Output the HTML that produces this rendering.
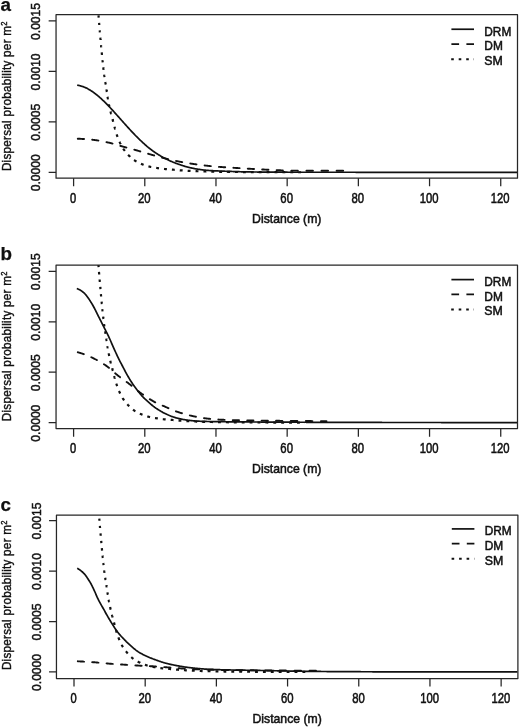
<!DOCTYPE html>
<html><head><meta charset="utf-8"><title>Dispersal kernels</title>
<style>html,body{margin:0;padding:0;background:#fff}svg{display:block;will-change:transform;filter:grayscale(1)}text{font-family:"Liberation Sans",sans-serif;fill:#111;stroke:#111;stroke-width:0.55px}</style></head><body>
<svg width="520" height="727" viewBox="0 0 520 727">
<rect width="520" height="727" fill="#fff"/>
<defs>
<clipPath id="cp0"><rect x="56.05" y="14.65" width="461.45" height="163.50"/></clipPath>
<clipPath id="cp1"><rect x="56.05" y="265.05" width="461.45" height="163.50"/></clipPath>
<clipPath id="cp2"><rect x="56.45" y="515.00" width="461.45" height="163.50"/></clipPath>
</defs>
<g id="panel-a">
<g clip-path="url(#cp0)" fill="none" stroke="#111" stroke-width="1.7" stroke-linejoin="round">
<path d="M95.67,-29.28 L95.71,-28.60 L95.74,-27.91 L95.78,-27.23 M96.09,-21.30 L96.13,-20.64 L96.16,-19.99 L96.20,-19.34 M96.48,-14.39 L96.51,-13.77 L96.55,-13.16 L96.58,-12.57 L96.62,-11.99 M96.93,-6.80 L96.97,-6.26 L97.00,-5.71 L97.04,-5.17 L97.07,-4.63 M97.42,0.62 L97.46,1.13 L97.49,1.64 L97.53,2.14 L97.56,2.65 M97.94,7.98 L97.98,8.44 L98.01,8.91 L98.05,9.37 L98.08,9.83 L98.12,10.30 M98.50,15.33 L98.54,15.78 L98.57,16.24 L98.61,16.69 L98.64,17.14 L98.68,17.58 M99.10,22.83 L99.13,23.26 L99.17,23.69 L99.20,24.12 L99.24,24.54 L99.27,24.97 M99.73,30.41 L99.76,30.81 L99.80,31.22 L99.83,31.63 L99.87,32.03 L99.90,32.44 M100.35,37.65 L100.39,38.05 L100.42,38.44 L100.46,38.83 L100.49,39.23 L100.53,39.62 L100.56,40.01 M101.02,45.04 L101.05,45.42 L101.09,45.80 L101.12,46.18 L101.16,46.56 L101.19,46.93 L101.23,47.30 M101.72,52.46 L101.75,52.82 L101.79,53.18 L101.82,53.53 L101.86,53.88 L101.89,54.23 L101.93,54.58 L101.96,54.93 M102.48,60.04 L102.52,60.37 L102.55,60.70 L102.59,61.03 L102.62,61.36 L102.66,61.69 L102.69,62.02 L102.73,62.35 M103.29,67.44 L103.32,67.74 L103.36,68.04 L103.39,68.35 L103.43,68.65 L103.46,68.95 L103.50,69.25 L103.53,69.56 L103.57,69.85 M104.20,74.72 L104.23,74.98 L104.27,75.23 L104.30,75.46 L104.34,75.70 L104.37,75.94 L104.41,76.18 L104.44,76.42 L104.48,76.65 L104.51,76.89 L104.54,77.13 M105.31,82.00 L105.35,82.21 L105.38,82.43 L105.42,82.64 L105.45,82.86 L105.49,83.07 L105.52,83.29 L105.56,83.51 L105.59,83.72 L105.63,83.94 L105.66,84.16 L105.70,84.38 L105.73,84.60 M106.47,89.40 L106.50,89.64 L106.54,89.87 L106.57,90.11 L106.61,90.34 L106.64,90.58 L106.68,90.82 L106.71,91.05 L106.75,91.29 L106.78,91.52 L106.81,91.76 L106.85,92.00 M107.58,96.79 L107.62,97.01 L107.65,97.23 L107.69,97.45 L107.72,97.67 L107.76,97.88 L107.79,98.08 L107.83,98.29 L107.86,98.49 L107.90,98.69 L107.93,98.89 L107.97,99.09 L108.00,99.30 M108.91,104.14 L108.95,104.32 L108.98,104.49 L109.02,104.67 L109.05,104.84 L109.08,105.02 L109.12,105.19 L109.15,105.36 L109.19,105.53 L109.22,105.70 L109.26,105.87 L109.29,106.03 L109.33,106.20 L109.36,106.37 L109.40,106.53 M110.52,111.50 L110.55,111.64 L110.59,111.78 L110.62,111.92 L110.66,112.06 L110.69,112.20 L110.73,112.34 L110.76,112.49 L110.80,112.63 L110.83,112.77 L110.87,112.91 L110.90,113.04 L110.94,113.18 L110.97,113.32 L111.01,113.45 L111.04,113.59 L111.08,113.73 L111.11,113.86 L111.15,114.00 L111.18,114.13 M112.47,119.13 L112.51,119.27 L112.54,119.40 L112.58,119.53 L112.61,119.67 L112.65,119.80 L112.68,119.94 L112.72,120.07 L112.75,120.20 L112.79,120.34 L112.82,120.47 L112.86,120.60 L112.89,120.74 L112.93,120.87 L112.96,121.00 L113.00,121.14 L113.03,121.27 L113.07,121.40 L113.10,121.54 L113.14,121.67 L113.17,121.80 M114.50,126.84 L114.53,126.98 L114.57,127.11 L114.60,127.24 L114.64,127.38 L114.67,127.51 L114.71,127.64 L114.74,127.78 L114.78,127.91 L114.81,128.04 L114.85,128.17 L114.88,128.30 L114.92,128.44 L114.95,128.57 L114.99,128.70 L115.02,128.83 L115.06,128.96 L115.09,129.09 L115.13,129.22 L115.16,129.35 L115.20,129.48 M116.66,134.39 L116.73,134.61 L116.80,134.82 L116.87,135.02 L116.94,135.23 L117.01,135.43 L117.08,135.63 L117.15,135.83 L117.22,136.03 L117.29,136.22 L117.36,136.42 L117.43,136.61 L117.50,136.80 L117.57,136.99 M119.49,141.70 L119.56,141.86 L119.63,142.01 L119.70,142.16 L119.77,142.31 L119.84,142.46 L119.91,142.61 L119.98,142.76 L120.05,142.90 L120.12,143.05 L120.19,143.19 L120.26,143.34 L120.33,143.48 L120.40,143.62 L120.47,143.76 L120.54,143.90 L120.61,144.04 L120.68,144.18 L120.71,144.25 M123.23,148.69 L123.37,148.90 L123.51,149.11 L123.65,149.31 L123.79,149.50 L123.93,149.70 L124.07,149.89 L124.21,150.08 L124.35,150.26 L124.49,150.44 L124.63,150.62 L124.77,150.79 L124.90,150.97 M128.15,154.80 L128.29,154.95 L128.43,155.11 L128.57,155.25 L128.71,155.40 L128.85,155.55 L128.99,155.69 L129.13,155.83 L129.27,155.97 L129.41,156.11 L129.55,156.25 L129.69,156.39 L129.83,156.52 L129.97,156.66 L130.11,156.79 L130.14,156.83 M134.05,160.04 L134.23,160.16 L134.40,160.27 L134.58,160.39 L134.75,160.50 L134.93,160.61 L135.10,160.72 L135.28,160.82 L135.45,160.93 L135.63,161.03 L135.80,161.14 L135.98,161.24 L136.15,161.34 L136.32,161.44 L136.50,161.53 M141.00,163.79 L141.21,163.88 L141.42,163.97 L141.63,164.06 L141.84,164.14 L142.05,164.23 L142.26,164.31 L142.47,164.39 L142.68,164.47 L142.89,164.55 L143.10,164.63 L143.31,164.70 L143.52,164.78 L143.66,164.83 M148.44,166.36 L148.65,166.42 L148.86,166.48 L149.07,166.53 L149.28,166.58 L149.49,166.63 L149.70,166.68 L149.91,166.73 L150.12,166.78 L150.33,166.83 L150.54,166.87 L150.75,166.92 L150.96,166.96 L151.17,167.01 L151.24,167.02 M156.20,167.88 L156.40,167.91 L156.61,167.94 L156.82,167.97 L157.03,168.01 L157.24,168.04 L157.45,168.07 L157.66,168.10 L157.87,168.14 L158.08,168.17 L158.29,168.20 L158.50,168.23 L158.71,168.27 L158.92,168.30 L159.02,168.31 M164.02,168.95 L164.23,168.97 L164.44,168.99 L164.65,169.00 L164.86,169.02 L165.07,169.04 L165.28,169.06 L165.48,169.07 L165.69,169.09 L165.90,169.10 L166.11,169.12 L166.32,169.13 L166.53,169.15 L166.74,169.16 L166.88,169.17 M171.91,169.57 L172.12,169.59 L172.33,169.61 L172.54,169.63 L172.75,169.65 L172.96,169.67 L173.17,169.69 L173.38,169.71 L173.59,169.73 L173.80,169.75 L174.01,169.77 L174.22,169.79 L174.42,169.81 L174.63,169.83 L174.74,169.84 M179.77,170.28 L179.98,170.30 L180.19,170.31 L180.40,170.33 L180.61,170.34 L180.82,170.36 L181.03,170.37 L181.23,170.39 L181.44,170.40 L181.65,170.42 L181.86,170.43 L182.07,170.44 L182.28,170.46 L182.49,170.47 L182.63,170.48 M187.66,170.78 L187.87,170.79 L188.08,170.80 L188.29,170.81 L188.50,170.82 L188.71,170.84 L188.92,170.85 L189.13,170.86 L189.34,170.87 L189.55,170.88 L189.76,170.89 L189.97,170.90 L190.17,170.91 L190.38,170.92 L190.52,170.93 M195.55,171.16 L195.76,171.17 L195.97,171.18 L196.18,171.19 L196.39,171.20 L196.60,171.21 L196.81,171.21 L197.02,171.22 L197.23,171.23 L197.44,171.24 L197.65,171.25 L197.86,171.26 L198.07,171.27 L198.28,171.27 L198.42,171.28 M203.45,171.46 L203.65,171.46 L203.86,171.47 L204.07,171.48 L204.28,171.48 L204.49,171.49 L204.70,171.49 L204.91,171.50 L205.12,171.50 L205.33,171.51 L205.54,171.51 L205.75,171.52 L205.96,171.52 L206.17,171.53 L206.31,171.53 M211.34,171.65 L211.55,171.66 L211.76,171.66 L211.97,171.66 L212.18,171.67 L212.39,171.67 L212.60,171.68 L212.80,171.68 L213.01,171.69 L213.22,171.69 L213.43,171.70 L213.64,171.70 L213.85,171.70 L214.06,171.71 L214.20,171.71 M219.23,171.80 L219.44,171.81 L219.65,171.81 L219.86,171.82 L220.07,171.82 L220.28,171.82 L220.49,171.83 L220.70,171.83 L220.91,171.83 L221.12,171.84 L221.33,171.84 L221.54,171.84 L221.74,171.85 L221.95,171.85 L222.09,171.85 M227.12,171.92 L227.33,171.92 L227.54,171.92 L227.75,171.93 L227.96,171.93 L228.17,171.93 L228.38,171.93 L228.59,171.94 L228.80,171.94 L229.01,171.94 L229.22,171.94 L229.43,171.94 L229.64,171.95 L229.85,171.95 L229.99,171.95 M235.05,172.00 L235.26,172.00 L235.47,172.00 L235.68,172.00 L235.89,172.00 L236.10,172.01 L236.31,172.01 L236.52,172.01 L236.73,172.01 L236.94,172.01 L237.15,172.02 L237.36,172.02 L237.56,172.02 L237.77,172.02 L237.91,172.02 M242.94,172.06 L243.15,172.06 L243.36,172.06 L243.57,172.06 L243.78,172.07 L243.99,172.07 L244.20,172.07 L244.41,172.07 L244.62,172.07 L244.83,172.07 L245.04,172.07 L245.25,172.08 L245.46,172.08 L245.67,172.08 L245.81,172.08 M250.84,172.11 L251.04,172.11 L251.25,172.11 L251.46,172.11 L251.67,172.11 L251.88,172.11 L252.09,172.12 L252.30,172.12 L252.51,172.12 L252.72,172.12 L252.93,172.12 L253.14,172.12 L253.35,172.12 L253.56,172.12 L253.70,172.12 M258.73,172.15 L258.94,172.15 L259.15,172.15 L259.36,172.15 L259.57,172.15 L259.78,172.15 L259.98,172.15 L260.19,172.15 L260.40,172.15 L260.61,172.15 L260.82,172.15 L261.03,172.15 L261.24,172.15 L261.45,172.15 L261.59,172.16 M266.62,172.17 L266.83,172.17 L267.04,172.17 L267.25,172.17 L267.46,172.18 L267.67,172.18 L267.88,172.18 L268.09,172.18 L268.30,172.18 L268.51,172.18 L268.72,172.18 L268.93,172.18 L269.13,172.18 L269.34,172.18 L269.48,172.18 M274.55,172.20 L274.76,172.20 L274.97,172.20 L275.18,172.20 L275.39,172.20 L275.60,172.20 L275.80,172.20 L276.01,172.20 L276.22,172.20 L276.43,172.20 L276.64,172.20 L276.85,172.20 L277.06,172.20 L277.27,172.21 L277.41,172.21 M282.44,172.22 L282.65,172.22 L282.86,172.22 L283.07,172.22 L283.28,172.22 L283.49,172.22 L283.70,172.22 L283.91,172.22 L284.12,172.22 L284.33,172.22 L284.54,172.22 L284.74,172.22 L284.95,172.23 L285.16,172.23 L285.30,172.23 M290.33,172.24 L290.54,172.24 L290.75,172.24 L290.96,172.24 L291.17,172.24 L291.38,172.24 L291.59,172.24 L291.80,172.24 L292.01,172.24 L292.22,172.24 L292.43,172.24 L292.64,172.24 L292.85,172.24 L293.06,172.24 L293.20,172.24 M298.23,172.25 L298.43,172.25 L298.64,172.25 L298.85,172.25 L299.06,172.25 L299.27,172.25 L299.48,172.25 L299.69,172.25 L299.90,172.25 L300.11,172.25 L300.32,172.25 L300.53,172.25 L300.74,172.25 L300.95,172.25 L301.09,172.25" stroke-width="2.2"/>
<path d="M77.78,138.72 L78.27,138.74 L78.76,138.76 L79.24,138.78 L79.73,138.80 L80.22,138.82 L80.71,138.85 L81.20,138.87 L81.69,138.90 L82.18,138.93 L82.67,138.95 L83.15,138.98 L83.64,139.01 L84.04,139.04 M92.17,139.73 L92.66,139.78 L93.15,139.84 L93.64,139.90 L94.13,139.95 L94.62,140.01 L95.11,140.08 L95.60,140.14 L96.08,140.21 L96.57,140.28 L97.06,140.35 L97.55,140.43 L98.04,140.51 L98.39,140.57 M106.44,142.15 L106.93,142.25 L107.41,142.36 L107.90,142.47 L108.39,142.58 L108.88,142.69 L109.37,142.80 L109.86,142.91 L110.35,143.03 L110.84,143.14 L111.32,143.26 L111.81,143.39 L112.30,143.52 L112.52,143.57 M120.34,145.85 L120.83,145.99 L121.32,146.13 L121.81,146.28 L122.30,146.42 L122.79,146.56 L123.28,146.69 L123.77,146.83 L124.25,146.96 L124.74,147.10 L125.23,147.23 L125.72,147.37 L126.21,147.50 L126.39,147.55 M134.30,149.70 L134.78,149.83 L135.27,149.97 L135.76,150.11 L136.25,150.24 L136.74,150.38 L137.23,150.52 L137.72,150.66 L138.21,150.80 L138.69,150.95 L139.18,151.09 L139.67,151.23 L140.16,151.38 L140.29,151.42 M148.11,153.76 L148.60,153.90 L149.09,154.04 L149.58,154.18 L150.07,154.32 L150.56,154.46 L151.05,154.60 L151.54,154.74 L152.02,154.88 L152.51,155.01 L153.00,155.15 L153.49,155.29 L153.98,155.43 L154.16,155.48 M162.02,157.66 L162.51,157.79 L163.00,157.92 L163.49,158.05 L163.98,158.17 L164.47,158.30 L164.95,158.42 L165.44,158.54 L165.93,158.67 L166.42,158.79 L166.91,158.91 L167.40,159.02 L167.89,159.14 L168.11,159.19 M176.06,160.96 L176.55,161.06 L177.04,161.16 L177.53,161.25 L178.02,161.35 L178.51,161.44 L178.99,161.54 L179.48,161.63 L179.97,161.72 L180.46,161.81 L180.95,161.91 L181.44,162.00 L181.93,162.09 L182.24,162.14 M190.28,163.51 L190.77,163.59 L191.26,163.66 L191.75,163.74 L192.24,163.81 L192.72,163.89 L193.21,163.96 L193.70,164.03 L194.19,164.10 L194.68,164.17 L195.17,164.24 L195.66,164.31 L196.15,164.37 L196.50,164.42 M204.59,165.46 L205.08,165.51 L205.57,165.57 L206.05,165.62 L206.54,165.68 L207.03,165.73 L207.52,165.78 L208.01,165.84 L208.50,165.89 L208.99,165.94 L209.48,165.99 L209.96,166.04 L210.45,166.08 L210.81,166.12 M218.94,166.84 L219.43,166.88 L219.92,166.92 L220.41,166.96 L220.89,167.00 L221.38,167.04 L221.87,167.07 L222.36,167.11 L222.85,167.15 L223.34,167.18 L223.83,167.22 L224.32,167.25 L224.80,167.29 L225.20,167.31 M233.38,167.81 L233.87,167.83 L234.36,167.86 L234.85,167.89 L235.33,167.92 L235.82,167.94 L236.31,167.97 L236.80,168.00 L237.29,168.03 L237.78,168.06 L238.27,168.09 L238.76,168.12 L239.24,168.15 L239.60,168.17 M247.78,168.67 L248.26,168.70 L248.75,168.73 L249.24,168.76 L249.73,168.78 L250.22,168.81 L250.71,168.84 L251.20,168.87 L251.69,168.90 L252.17,168.92 L252.66,168.95 L253.15,168.98 L253.64,169.00 L254.04,169.03 M262.17,169.46 L262.66,169.48 L263.15,169.51 L263.64,169.53 L264.13,169.56 L264.62,169.58 L265.10,169.61 L265.59,169.63 L266.08,169.65 L266.57,169.68 L267.06,169.71 L267.55,169.73 L268.04,169.76 L268.44,169.78 M276.61,170.18 L277.10,170.20 L277.59,170.22 L278.08,170.24 L278.57,170.25 L279.06,170.27 L279.55,170.29 L280.03,170.30 L280.52,170.31 L281.01,170.33 L281.50,170.34 L281.99,170.36 L282.48,170.37 L282.88,170.38 M291.32,170.59 L291.85,170.60 L292.39,170.61 L292.92,170.62 L293.45,170.63 L293.99,170.64 L294.52,170.64 L295.05,170.65 L295.59,170.66 L296.12,170.67 L296.65,170.67 L297.18,170.68 L297.72,170.68 L297.85,170.69 M306.43,170.73 L306.96,170.73 L307.49,170.73 L308.03,170.73 L308.56,170.74 L309.09,170.74 L309.63,170.74 L310.16,170.74 L310.69,170.74 L311.23,170.74 L311.76,170.75 L312.29,170.75 L312.83,170.75 L312.96,170.75 M321.49,170.77 L322.02,170.78 L322.56,170.78 L323.09,170.78 L323.62,170.78 L324.16,170.78 L324.69,170.78 L325.22,170.78 L325.75,170.78 L326.29,170.78 L326.82,170.78 L327.35,170.79 L327.89,170.79 L328.07,170.79 M336.60,170.80 L337.13,170.80 L337.66,170.80 L338.20,170.80 L338.73,170.80 L339.26,170.80 L339.80,170.80 L340.33,170.80 L340.86,170.80 L341.40,170.80 L341.93,170.80 L342.46,170.80 L342.99,170.80 L343.17,170.80" stroke-width="1.9" stroke-linecap="round"/>
<path d="M77.16,85.17 L77.65,85.25 L78.14,85.34 L78.63,85.43 L79.12,85.54 L79.61,85.66 L80.10,85.79 L80.59,85.92 L81.08,86.06 L81.57,86.21 L82.06,86.36 L82.55,86.52 L83.04,86.68 L83.53,86.85 L84.02,87.03 L84.51,87.21 L85.00,87.42 L85.49,87.63 L85.98,87.86 L86.47,88.10 L86.96,88.35 L87.45,88.61 L87.94,88.88 L88.43,89.16 L88.91,89.44 L89.40,89.72 L89.89,90.01 L90.38,90.30 L90.87,90.60 L91.36,90.91 L91.85,91.23 L92.34,91.57 L92.83,91.91 L93.32,92.26 L93.81,92.61 L94.30,92.98 L94.79,93.35 L95.28,93.73 L95.77,94.11 L96.26,94.49 L96.75,94.88 L97.24,95.27 L97.73,95.67 L98.22,96.08 L98.71,96.50 L99.20,96.93 L99.69,97.36 L100.18,97.80 L100.67,98.24 L101.16,98.69 L101.65,99.14 L102.14,99.60 L102.63,100.06 L103.12,100.53 L103.61,100.99 L104.10,101.46 L104.59,101.94 L105.08,102.42 L105.57,102.91 L106.06,103.41 L106.55,103.90 L107.04,104.41 L107.53,104.91 L108.02,105.42 L108.51,105.94 L109.00,106.45 L109.49,106.97 L109.98,107.48 L110.47,108.00 L110.96,108.52 L111.45,109.05 L111.94,109.58 L112.43,110.11 L112.92,110.65 L113.41,111.19 L113.90,111.73 L114.39,112.27 L114.87,112.82 L115.36,113.36 L115.85,113.91 L116.34,114.45 L116.83,115.00 L117.32,115.54 L117.81,116.09 L118.30,116.64 L118.79,117.19 L119.28,117.74 L119.77,118.29 L120.26,118.85 L120.75,119.40 L121.24,119.95 L121.73,120.50 L122.22,121.06 L122.71,121.61 L123.20,122.16 L123.69,122.70 L124.18,123.25 L124.67,123.80 L125.16,124.34 L125.65,124.89 L126.14,125.44 L126.63,125.98 L127.12,126.52 L127.61,127.07 L128.10,127.61 L128.59,128.15 L129.08,128.68 L129.57,129.22 L130.06,129.75 L130.55,130.27 L131.04,130.80 L131.53,131.33 L132.02,131.86 L132.51,132.38 L133.00,132.91 L133.49,133.43 L133.98,133.95 L134.47,134.46 L134.96,134.97 L135.45,135.47 L135.94,135.97 L136.43,136.46 L136.92,136.94 L137.41,137.42 L137.90,137.90 L138.39,138.38 L138.88,138.86 L139.37,139.33 L139.86,139.80 L140.35,140.27 L140.83,140.74 L141.32,141.21 L141.81,141.67 L142.30,142.13 L142.79,142.59 L143.28,143.04 L143.77,143.49 L144.26,143.94 L144.75,144.38 L145.24,144.82 L145.73,145.25 L146.22,145.68 L146.71,146.11 L147.20,146.52 L147.69,146.94 L148.18,147.34 L148.67,147.74 L149.16,148.14 L149.65,148.53 L150.14,148.91 L150.63,149.29 L151.12,149.66 L151.61,150.03 L152.10,150.39 L152.59,150.75 L153.08,151.10 L153.57,151.45 L154.06,151.80 L154.55,152.14 L155.04,152.48 L155.53,152.81 L156.02,153.14 L156.51,153.46 L157.00,153.78 L157.49,154.09 L157.98,154.40 L158.47,154.71 L158.96,155.01 L159.45,155.31 L159.94,155.60 L160.43,155.89 L160.92,156.18 L161.41,156.46 L161.90,156.74 L162.39,157.02 L162.88,157.29 L163.37,157.57 L163.86,157.83 L164.35,158.10 L164.84,158.36 L165.33,158.61 L165.82,158.86 L166.31,159.11 L166.79,159.36 L167.28,159.60 L167.77,159.84 L168.26,160.07 L168.75,160.30 L169.24,160.52 L169.73,160.74 L170.22,160.96 L170.71,161.17 L171.20,161.38 L171.69,161.59 L172.18,161.79 L172.67,162.00 L173.16,162.19 L173.65,162.39 L174.14,162.58 L174.63,162.77 L175.12,162.96 L175.61,163.15 L176.10,163.33 L176.59,163.51 L177.08,163.69 L177.57,163.87 L178.06,164.04 L178.55,164.21 L179.04,164.38 L179.53,164.55 L180.02,164.72 L180.51,164.89 L181.00,165.06 L181.49,165.22 L181.98,165.38 L182.47,165.55 L182.96,165.71 L183.45,165.86 L183.94,166.02 L184.43,166.17 L184.92,166.32 L185.41,166.46 L185.90,166.61 L186.39,166.75 L186.88,166.88 L187.37,167.01 L187.86,167.14 L188.35,167.26 L188.84,167.38 L189.33,167.50 L189.82,167.61 L190.31,167.72 L190.80,167.84 L191.29,167.94 L191.78,168.05 L192.27,168.15 L192.76,168.26 L193.24,168.36 L193.73,168.45 L194.22,168.55 L194.71,168.64 L195.20,168.73 L195.69,168.82 L196.18,168.90 L196.67,168.99 L197.16,169.07 L197.65,169.15 L198.14,169.22 L198.63,169.30 L199.12,169.37 L199.61,169.44 L200.10,169.52 L200.59,169.59 L201.08,169.66 L201.57,169.73 L202.06,169.79 L202.55,169.86 L203.04,169.92 L203.53,169.99 L204.02,170.04 L204.51,170.10 L205.00,170.16 L205.49,170.21 L205.98,170.26 L206.47,170.30 L206.96,170.34 L207.45,170.38 L207.94,170.42 L208.43,170.45 L208.92,170.48 L209.41,170.52 L209.90,170.55 L210.39,170.58 L210.88,170.61 L211.37,170.64 L211.86,170.66 L212.35,170.69 L212.84,170.72 L213.33,170.75 L213.82,170.77 L214.31,170.80 L214.80,170.82 L215.29,170.84 L215.78,170.87 L216.27,170.89 L216.76,170.91 L217.25,170.93 L217.74,170.95 L218.23,170.97 L218.72,170.99 L219.20,171.01 L219.69,171.03 L220.18,171.05 L220.67,171.07 L221.16,171.09 L221.65,171.11 L222.14,171.13 L222.63,171.14 L223.12,171.16 L223.61,171.18 L224.10,171.20 L224.59,171.21 L225.08,171.23 L225.57,171.25 L226.06,171.27 L226.55,171.28 L227.04,171.30 L227.53,171.32 L228.02,171.34 L228.51,171.35 L229.00,171.37 L229.49,171.39 L229.98,171.41 L230.47,171.42 L230.96,171.44 L231.45,171.46 L231.94,171.48 L232.43,171.49 L232.92,171.51 L233.41,171.53 L233.90,171.54 L234.39,171.56 L234.88,171.58 L235.37,171.59 L235.86,171.61 L236.35,171.63 L236.84,171.64 L237.33,171.66 L237.82,171.67 L238.31,171.69 L238.80,171.71 L239.29,171.72 L239.78,171.73 L240.27,171.75 L240.76,171.76 L241.25,171.78 L241.74,171.79 L242.23,171.80 L242.72,171.81 L243.21,171.83 L243.70,171.84 L244.19,171.85 L244.68,171.86 L245.16,171.87 L245.65,171.88 L246.14,171.89 L246.63,171.90 L247.12,171.91 L247.61,171.92 L248.10,171.93 L248.59,171.93 L249.08,171.94 L249.57,171.95 L250.06,171.95 L250.55,171.96 L251.04,171.96 L251.53,171.97 L252.02,171.97 L252.51,171.98 L253.00,171.98 L253.49,171.99 L253.98,171.99 L254.47,172.00 L254.96,172.00 L255.45,172.01 L255.94,172.01 L256.43,172.02 L256.92,172.02 L257.41,172.03 L257.90,172.03 L258.39,172.03 L258.88,172.04 L259.37,172.04 L259.86,172.05 L260.35,172.05 L260.84,172.06 L261.33,172.06 L261.82,172.07 L262.31,172.07 L262.80,172.07 L263.29,172.08 L263.78,172.08 L264.27,172.09 L264.76,172.09 L265.25,172.09 L265.74,172.10 L266.23,172.10 L266.72,172.11 L267.21,172.11 L267.70,172.11 L268.19,172.12 L268.68,172.12 L269.17,172.12 L269.66,172.13 L270.15,172.13 L270.64,172.13 L271.12,172.14 L271.61,172.14 L272.10,172.15 L272.59,172.15 L273.08,172.15 L273.57,172.15 L274.06,172.16 L274.55,172.16 L275.04,172.16 L275.53,172.17 L276.02,172.17 L276.51,172.17 L277.00,172.18 L277.49,172.18 L277.98,172.18 L278.47,172.18 L278.96,172.19 L279.45,172.19 L279.94,172.19 L280.43,172.19 L280.92,172.20 L281.41,172.20 L281.90,172.20 L282.39,172.20 L282.88,172.21 L283.37,172.21 L283.86,172.21 L284.35,172.21 L284.84,172.21 L285.33,172.22 L285.82,172.22 L286.31,172.22 L286.80,172.22 L287.29,172.22 L287.78,172.23 L288.27,172.23 L288.76,172.23 L289.25,172.23 L289.74,172.23 L290.23,172.23 L290.72,172.23 L291.21,172.24 L291.70,172.24 L292.19,172.24 L292.68,172.24 L293.17,172.24 L293.66,172.24 L294.15,172.24 L294.64,172.24 L295.13,172.24 L295.62,172.25 L296.11,172.25 L296.60,172.25 L297.08,172.25 L297.57,172.25 L298.06,172.25 L298.55,172.25 L299.04,172.25 L299.53,172.25 L300.02,172.25 L300.51,172.25 L301.00,172.25 L301.49,172.25 L301.98,172.25 L302.47,172.25 L302.96,172.25 L303.45,172.25 L303.94,172.25 L304.43,172.25 L304.92,172.25 L305.41,172.25 L305.90,172.25 L306.39,172.25 L306.88,172.25 L307.37,172.25 L307.86,172.25 L308.35,172.25 L308.84,172.25 L309.33,172.25 L309.82,172.26 L310.31,172.26 L310.80,172.26 L311.29,172.26 L311.78,172.26 L312.27,172.26 L312.76,172.26 L313.25,172.26 L313.74,172.26 L314.23,172.26 L314.72,172.26 L315.21,172.26 L315.70,172.26 L316.19,172.26 L316.68,172.26 L317.17,172.26 L317.66,172.26 L318.15,172.26 L318.64,172.26 L319.13,172.26 L319.62,172.26 L320.11,172.26 L320.60,172.26 L321.09,172.26 L321.58,172.26 L322.07,172.26 L322.56,172.26 L323.04,172.26 L323.53,172.26 L324.02,172.26 L324.51,172.26 L325.00,172.26 L325.49,172.26 L325.98,172.26 L326.47,172.26 L326.96,172.26 L327.45,172.26 L327.94,172.26 L328.43,172.26 L328.92,172.26 L329.41,172.26 L329.90,172.26 L330.39,172.27 L330.88,172.27 L331.37,172.27 L331.86,172.27 L332.35,172.27 L332.84,172.27 L333.33,172.27 L333.82,172.27 L334.31,172.27 L334.80,172.27 L335.29,172.27 L335.78,172.27 L336.27,172.27 L336.76,172.27 L337.25,172.27 L337.74,172.27 L338.23,172.27 L338.72,172.27 L339.21,172.27 L339.70,172.27 L340.19,172.27 L340.68,172.27 L341.17,172.27 L341.66,172.27 L342.15,172.27 L342.64,172.27 L343.13,172.27 L343.62,172.27 L344.11,172.27 L344.60,172.27 L345.09,172.27 L345.58,172.27 L346.07,172.27 L346.56,172.27 L347.05,172.27 L347.54,172.27 L348.03,172.27 L348.52,172.27 L349.00,172.27 L349.49,172.27 L349.98,172.27 L350.47,172.27 L350.96,172.27 L351.45,172.27 L351.94,172.27 L352.43,172.27 L352.92,172.27 L353.41,172.27 L353.90,172.27 L354.39,172.27 L354.88,172.27 L355.37,172.27 L355.86,172.28 L356.35,172.28 L356.84,172.28 L357.33,172.28 L357.82,172.28 L358.31,172.28 L358.80,172.28 L359.29,172.28 L359.78,172.28 L360.27,172.28 L360.76,172.28 L361.25,172.28 L361.74,172.28 L362.23,172.28 L362.72,172.28 L363.21,172.28 L363.70,172.28 L364.19,172.28 L364.68,172.28 L365.17,172.28 L365.66,172.28 L366.15,172.28 L366.64,172.28 L367.13,172.28 L367.62,172.28 L368.11,172.28 L368.60,172.28 L369.09,172.28 L369.58,172.28 L370.07,172.28 L370.56,172.28 L371.05,172.28 L371.54,172.28 L372.03,172.28 L372.52,172.28 L373.01,172.28 L373.50,172.28 L373.99,172.28 L374.48,172.28 L374.96,172.28 L375.45,172.28 L375.94,172.28 L376.43,172.28 L376.92,172.28 L377.41,172.28 L377.90,172.28 L378.39,172.28 L378.88,172.28 L379.37,172.28 L379.86,172.28 L380.35,172.28 L380.84,172.28 L381.33,172.28 L381.82,172.28 L382.31,172.28 L382.80,172.28 L383.29,172.28 L383.78,172.28 L384.27,172.28 L384.76,172.28 L385.25,172.28 L385.74,172.28 L386.23,172.28 L386.72,172.28 L387.21,172.28 L387.70,172.28 L388.19,172.29 L388.68,172.29 L389.17,172.29 L389.66,172.29 L390.15,172.29 L390.64,172.29 L391.13,172.29 L391.62,172.29 L392.11,172.29 L392.60,172.29 L393.09,172.29 L393.58,172.29 L394.07,172.29 L394.56,172.29 L395.05,172.29 L395.54,172.29 L396.03,172.29 L396.52,172.29 L397.01,172.29 L397.50,172.29 L397.99,172.29 L398.48,172.29 L398.97,172.29 L399.46,172.29 L399.95,172.29 L400.44,172.29 L400.92,172.29 L401.41,172.29 L401.90,172.29 L402.39,172.29 L402.88,172.29 L403.37,172.29 L403.86,172.29 L404.35,172.29 L404.84,172.29 L405.33,172.29 L405.82,172.29 L406.31,172.29 L406.80,172.29 L407.29,172.29 L407.78,172.29 L408.27,172.29 L408.76,172.29 L409.25,172.29 L409.74,172.29 L410.23,172.29 L410.72,172.29 L411.21,172.29 L411.70,172.29 L412.19,172.29 L412.68,172.29 L413.17,172.29 L413.66,172.29 L414.15,172.29 L414.64,172.29 L415.13,172.29 L415.62,172.29 L416.11,172.29 L416.60,172.29 L417.09,172.29 L417.58,172.29 L418.07,172.29 L418.56,172.29 L419.05,172.29 L419.54,172.29 L420.03,172.29 L420.52,172.29 L421.01,172.29 L421.50,172.29 L421.99,172.29 L422.48,172.29 L422.97,172.29 L423.46,172.29 L423.95,172.29 L424.44,172.29 L424.93,172.29 L425.42,172.29 L425.91,172.29 L426.40,172.29 L426.88,172.29 L427.37,172.29 L427.86,172.29 L428.35,172.29 L428.84,172.29 L429.33,172.29 L429.82,172.29 L430.31,172.29 L430.80,172.29 L431.29,172.29 L431.78,172.29 L432.27,172.29 L432.76,172.29 L433.25,172.29 L433.74,172.29 L434.23,172.29 L434.72,172.29 L435.21,172.29 L435.70,172.29 L436.19,172.29 L436.68,172.29 L437.17,172.29 L437.66,172.29 L438.15,172.29 L438.64,172.30 L439.13,172.30 L439.62,172.30 L440.11,172.30 L440.60,172.30 L441.09,172.30 L441.58,172.30 L442.07,172.30 L442.56,172.30 L443.05,172.30 L443.54,172.30 L444.03,172.30 L444.52,172.30 L445.01,172.30 L445.50,172.30 L445.99,172.30 L446.48,172.30 L446.97,172.30 L447.46,172.30 L447.95,172.30 L448.44,172.30 L448.93,172.30 L449.42,172.30 L449.91,172.30 L450.40,172.30 L450.89,172.30 L451.38,172.30 L451.87,172.30 L452.36,172.30 L452.84,172.30 L453.33,172.30 L453.82,172.30 L454.31,172.30 L454.80,172.30 L455.29,172.30 L455.78,172.30 L456.27,172.30 L456.76,172.30 L457.25,172.30 L457.74,172.30 L458.23,172.30 L458.72,172.30 L459.21,172.30 L459.70,172.30 L460.19,172.30 L460.68,172.30 L461.17,172.30 L461.66,172.30 L462.15,172.30 L462.64,172.30 L463.13,172.30 L463.62,172.30 L464.11,172.30 L464.60,172.30 L465.09,172.30 L465.58,172.30 L466.07,172.30 L466.56,172.30 L467.05,172.30 L467.54,172.30 L468.03,172.30 L468.52,172.30 L469.01,172.30 L469.50,172.30 L469.99,172.30 L470.48,172.30 L470.97,172.30 L471.46,172.30 L471.95,172.30 L472.44,172.30 L472.93,172.30 L473.42,172.30 L473.91,172.30 L474.40,172.30 L474.89,172.30 L475.38,172.30 L475.87,172.30 L476.36,172.30 L476.85,172.30 L477.34,172.30 L477.83,172.30 L478.32,172.30 L478.80,172.30 L479.29,172.30 L479.78,172.30 L480.27,172.30 L480.76,172.30 L481.25,172.30 L481.74,172.30 L482.23,172.30 L482.72,172.30 L483.21,172.30 L483.70,172.30 L484.19,172.30 L484.68,172.30 L485.17,172.30 L485.66,172.30 L486.15,172.30 L486.64,172.30 L487.13,172.30 L487.62,172.30 L488.11,172.30 L488.60,172.30 L489.09,172.30 L489.58,172.30 L490.07,172.30 L490.56,172.30 L491.05,172.30 L491.54,172.30 L492.03,172.30 L492.52,172.30 L493.01,172.30 L493.50,172.30 L493.99,172.30 L494.48,172.30 L494.97,172.30 L495.46,172.30 L495.95,172.30 L496.44,172.30 L496.93,172.30 L497.42,172.30 L497.91,172.30 L498.40,172.30 L498.89,172.30 L499.38,172.30 L499.87,172.30 L500.36,172.30 L500.85,172.30 L501.34,172.30 L501.83,172.30 L502.32,172.30 L502.81,172.30 L503.30,172.30 L503.79,172.30 L504.28,172.30 L504.76,172.30 L505.25,172.30 L505.74,172.30 L506.23,172.30 L506.72,172.30 L507.21,172.30 L507.70,172.30 L508.19,172.30 L508.68,172.30 L509.17,172.30 L509.66,172.30 L510.15,172.30 L510.64,172.30 L511.13,172.30 L511.62,172.30 L512.11,172.30 L512.60,172.30 L513.09,172.30 L513.58,172.30 L514.07,172.30 L514.56,172.30 L515.05,172.30 L515.54,172.30 L516.03,172.30 L516.52,172.30 L517.01,172.30 L517.50,172.30"/>
</g>
<g fill="none" stroke="#262626" stroke-width="1.25" stroke-linejoin="round">
<rect x="56.05" y="14.65" width="461.45" height="163.50"/>
<path d="M73.60,178.15v8.1M144.79,178.15v8.1M215.98,178.15v8.1M287.17,178.15v8.1M358.36,178.15v8.1M429.55,178.15v8.1M500.74,178.15v8.1M56.05,172.30h-7.4M56.05,121.85h-7.4M56.05,71.40h-7.4M56.05,20.95h-7.4"/>
</g>
<text x="73.10" y="202.90" font-size="13.8" text-anchor="middle" textLength="6.20" lengthAdjust="spacingAndGlyphs">0</text>
<text x="144.29" y="202.90" font-size="13.8" text-anchor="middle" textLength="12.60" lengthAdjust="spacingAndGlyphs">20</text>
<text x="215.48" y="202.90" font-size="13.8" text-anchor="middle" textLength="12.60" lengthAdjust="spacingAndGlyphs">40</text>
<text x="286.67" y="202.90" font-size="13.8" text-anchor="middle" textLength="12.60" lengthAdjust="spacingAndGlyphs">60</text>
<text x="357.86" y="202.90" font-size="13.8" text-anchor="middle" textLength="12.60" lengthAdjust="spacingAndGlyphs">80</text>
<text x="429.05" y="202.90" font-size="13.8" text-anchor="middle" textLength="18.80" lengthAdjust="spacingAndGlyphs">100</text>
<text x="500.24" y="202.90" font-size="13.8" text-anchor="middle" textLength="18.80" lengthAdjust="spacingAndGlyphs">120</text>
<text x="40.20" y="172.80" font-size="13.6" text-anchor="middle" transform="rotate(-90 40.20 172.80)" textLength="37.00" lengthAdjust="spacingAndGlyphs" style="stroke-width:0.5px">0.0000</text>
<text x="40.20" y="122.35" font-size="13.6" text-anchor="middle" transform="rotate(-90 40.20 122.35)" textLength="37.00" lengthAdjust="spacingAndGlyphs" style="stroke-width:0.5px">0.0005</text>
<text x="40.20" y="71.90" font-size="13.6" text-anchor="middle" transform="rotate(-90 40.20 71.90)" textLength="37.00" lengthAdjust="spacingAndGlyphs" style="stroke-width:0.5px">0.0010</text>
<text x="40.20" y="21.45" font-size="13.6" text-anchor="middle" transform="rotate(-90 40.20 21.45)" textLength="37.00" lengthAdjust="spacingAndGlyphs" style="stroke-width:0.5px">0.0015</text>
<text x="286.77" y="223.40" font-size="13.6" text-anchor="middle" textLength="69.30" lengthAdjust="spacingAndGlyphs">Distance (m)</text>
<text x="0" y="0" font-size="13.6" text-anchor="middle" transform="translate(10.80 96.30) rotate(-90) scale(0.86 1)" textLength="173.95" lengthAdjust="spacing" style="stroke-width:0.42px">Dispersal probability per m<tspan font-size="8.8" dy="-4.3">2</tspan></text>
<text x="0.50" y="11.40" font-size="18.8" text-anchor="start" font-weight="bold" style="stroke-width:0.25px">a</text>
<g fill="none" stroke="#111" stroke-width="1.7">
<path d="M451.4,29.25H474.0"/>
<path d="M451.4,44.05H474.0" stroke-dasharray="7.7 7.3"/>
<path d="M451.2,59.15H474.0" stroke-dasharray="2.6 4.9" stroke-width="2.0"/>
</g>
<text x="484.30" y="35.75" font-size="13.5" text-anchor="start" textLength="27.00" lengthAdjust="spacingAndGlyphs">DRM</text>
<text x="484.30" y="50.35" font-size="13.5" text-anchor="start" textLength="18.50" lengthAdjust="spacingAndGlyphs">DM</text>
<text x="484.30" y="64.95" font-size="13.5" text-anchor="start" textLength="18.50" lengthAdjust="spacingAndGlyphs">SM</text>
</g>
<g id="panel-b">
<g clip-path="url(#cp1)" fill="none" stroke="#111" stroke-width="1.7" stroke-linejoin="round">
<path d="M95.64,220.38 L95.67,221.07 L95.71,221.75 L95.74,222.44 M96.02,227.75 L96.06,228.40 L96.09,229.05 L96.13,229.71 M96.41,234.72 L96.44,235.34 L96.48,235.96 L96.51,236.58 L96.55,237.19 M96.86,242.43 L96.90,243.01 L96.93,243.55 L96.97,244.09 L97.00,244.64 M97.35,249.96 L97.39,250.46 L97.42,250.97 L97.46,251.48 L97.49,251.99 M97.87,257.36 L97.91,257.84 L97.94,258.33 L97.98,258.79 L98.01,259.26 L98.05,259.72 M98.43,264.78 L98.47,265.23 L98.50,265.68 L98.54,266.13 L98.57,266.59 L98.61,267.04 M98.99,271.90 L99.03,272.33 L99.06,272.76 L99.10,273.18 L99.13,273.61 L99.17,274.04 L99.20,274.47 M99.62,279.51 L99.66,279.93 L99.69,280.35 L99.73,280.76 L99.76,281.16 L99.80,281.57 L99.83,281.98 M100.25,286.81 L100.28,287.21 L100.32,287.60 L100.35,288.00 L100.39,288.40 L100.42,288.79 L100.46,289.18 M100.91,294.23 L100.95,294.62 L100.98,295.00 L101.02,295.39 L101.05,295.77 L101.09,296.15 L101.12,296.53 M101.61,301.72 L101.65,302.08 L101.68,302.44 L101.72,302.81 L101.75,303.17 L101.79,303.53 L101.82,303.88 L101.86,304.23 M102.34,309.04 L102.38,309.38 L102.41,309.71 L102.45,310.05 L102.48,310.39 L102.52,310.72 L102.55,311.05 L102.59,311.38 M103.15,316.56 L103.18,316.87 L103.22,317.18 L103.25,317.49 L103.29,317.79 L103.32,318.09 L103.36,318.39 L103.39,318.70 L103.43,319.00 M104.06,324.04 L104.09,324.30 L104.13,324.56 L104.16,324.81 L104.20,325.07 L104.23,325.33 L104.27,325.58 L104.30,325.81 L104.34,326.05 L104.37,326.29 M105.14,331.26 L105.17,331.48 L105.21,331.70 L105.24,331.91 L105.28,332.13 L105.31,332.35 L105.35,332.56 L105.38,332.78 L105.42,332.99 L105.45,333.21 L105.49,333.42 L105.52,333.64 L105.56,333.86 M106.29,338.58 L106.33,338.81 L106.36,339.04 L106.40,339.28 L106.43,339.51 L106.47,339.75 L106.50,339.99 L106.54,340.22 L106.57,340.46 L106.61,340.69 L106.64,340.93 L106.68,341.17 M107.41,346.05 L107.44,346.27 L107.48,346.49 L107.51,346.71 L107.55,346.93 L107.58,347.14 L107.62,347.36 L107.65,347.58 L107.69,347.80 L107.72,348.02 L107.76,348.23 L107.79,348.43 M108.67,353.25 L108.70,353.43 L108.74,353.61 L108.77,353.79 L108.81,353.97 L108.84,354.15 L108.88,354.32 L108.91,354.49 L108.95,354.67 L108.98,354.84 L109.02,355.02 L109.05,355.19 L109.08,355.37 L109.12,355.54 L109.15,355.71 L109.19,355.88 M110.24,360.68 L110.27,360.83 L110.31,360.97 L110.34,361.12 L110.38,361.26 L110.41,361.41 L110.45,361.56 L110.48,361.70 L110.52,361.85 L110.55,361.99 L110.59,362.13 L110.62,362.27 L110.66,362.41 L110.69,362.55 L110.73,362.69 L110.76,362.84 L110.80,362.98 L110.83,363.12 L110.87,363.26 L110.90,363.39 M112.16,368.26 L112.19,368.40 L112.23,368.54 L112.26,368.67 L112.30,368.81 L112.33,368.94 L112.37,369.08 L112.40,369.21 L112.44,369.35 L112.47,369.48 L112.51,369.62 L112.54,369.75 L112.58,369.88 L112.61,370.02 L112.65,370.15 L112.68,370.29 L112.72,370.42 L112.75,370.55 L112.79,370.69 L112.82,370.82 L112.86,370.95 M114.18,375.99 L114.22,376.12 L114.25,376.26 L114.29,376.39 L114.32,376.53 L114.36,376.66 L114.39,376.79 L114.43,376.93 L114.46,377.06 L114.50,377.19 L114.53,377.33 L114.57,377.46 L114.60,377.59 L114.64,377.73 L114.67,377.86 L114.71,377.99 L114.74,378.13 L114.78,378.26 L114.81,378.39 L114.85,378.52 L114.88,378.65 M116.28,383.55 L116.35,383.77 L116.42,383.99 L116.49,384.21 L116.56,384.42 L116.63,384.64 L116.70,384.85 L116.77,385.06 L116.84,385.27 L116.91,385.48 L116.98,385.68 L117.05,385.88 L117.12,386.08 L117.15,386.18 M119.00,390.94 L119.07,391.10 L119.14,391.26 L119.21,391.42 L119.28,391.59 L119.35,391.74 L119.42,391.90 L119.49,392.05 L119.56,392.21 L119.63,392.36 L119.70,392.51 L119.77,392.66 L119.84,392.81 L119.91,392.96 L119.98,393.11 L120.05,393.25 L120.12,393.40 L120.19,393.54 M122.56,397.98 L122.67,398.16 L122.77,398.33 L122.88,398.50 L122.98,398.66 L123.09,398.83 L123.19,398.99 L123.30,399.14 L123.40,399.30 L123.51,399.46 L123.61,399.61 L123.72,399.76 L123.82,399.90 L123.93,400.05 L124.03,400.19 L124.14,400.33 M127.35,404.25 L127.49,404.41 L127.63,404.57 L127.77,404.73 L127.91,404.88 L128.05,405.04 L128.19,405.19 L128.33,405.34 L128.47,405.49 L128.61,405.64 L128.75,405.79 L128.89,405.93 L129.03,406.07 L129.17,406.22 L129.27,406.32 M133.04,409.68 L133.22,409.81 L133.39,409.93 L133.57,410.06 L133.74,410.18 L133.91,410.30 L134.09,410.42 L134.26,410.53 L134.44,410.65 L134.61,410.76 L134.79,410.87 L134.96,410.98 L135.14,411.09 L135.31,411.20 L135.42,411.26 M139.89,413.63 L140.10,413.73 L140.31,413.83 L140.52,413.92 L140.72,414.02 L140.93,414.11 L141.14,414.20 L141.35,414.29 L141.56,414.38 L141.77,414.46 L141.98,414.55 L142.19,414.63 L142.40,414.71 L142.51,414.75 M147.29,416.39 L147.50,416.45 L147.71,416.51 L147.92,416.57 L148.13,416.63 L148.34,416.69 L148.55,416.74 L148.76,416.80 L148.97,416.85 L149.18,416.91 L149.39,416.96 L149.59,417.01 L149.80,417.06 L150.01,417.11 L150.05,417.12 M155.01,418.04 L155.22,418.07 L155.43,418.11 L155.64,418.14 L155.85,418.17 L156.06,418.20 L156.27,418.24 L156.47,418.27 L156.68,418.30 L156.89,418.33 L157.10,418.37 L157.31,418.40 L157.52,418.43 L157.73,418.46 L157.84,418.48 M162.80,419.18 L163.01,419.20 L163.21,419.22 L163.42,419.24 L163.63,419.26 L163.84,419.28 L164.05,419.30 L164.26,419.32 L164.47,419.34 L164.68,419.36 L164.89,419.37 L165.10,419.39 L165.31,419.41 L165.52,419.42 L165.66,419.43 M170.69,419.81 L170.90,419.83 L171.11,419.85 L171.32,419.86 L171.53,419.88 L171.74,419.90 L171.95,419.92 L172.15,419.94 L172.36,419.96 L172.57,419.98 L172.78,420.00 L172.99,420.02 L173.20,420.04 L173.41,420.06 L173.55,420.07 M178.55,420.54 L178.76,420.55 L178.96,420.57 L179.17,420.59 L179.38,420.60 L179.59,420.62 L179.80,420.64 L180.01,420.65 L180.22,420.67 L180.43,420.68 L180.64,420.70 L180.85,420.71 L181.06,420.72 L181.27,420.74 L181.41,420.75 M186.44,421.06 L186.65,421.07 L186.86,421.09 L187.07,421.10 L187.28,421.11 L187.49,421.12 L187.70,421.13 L187.90,421.14 L188.11,421.15 L188.32,421.17 L188.53,421.18 L188.74,421.19 L188.95,421.20 L189.16,421.21 L189.30,421.22 M194.33,421.45 L194.54,421.46 L194.75,421.47 L194.96,421.48 L195.17,421.49 L195.38,421.50 L195.59,421.51 L195.80,421.52 L196.01,421.53 L196.22,421.54 L196.43,421.55 L196.64,421.56 L196.85,421.57 L197.05,421.57 L197.19,421.58 M202.22,421.77 L202.43,421.78 L202.64,421.78 L202.85,421.79 L203.06,421.80 L203.27,421.80 L203.48,421.81 L203.69,421.81 L203.90,421.82 L204.11,421.83 L204.32,421.83 L204.53,421.84 L204.74,421.84 L204.95,421.85 L205.09,421.85 M210.12,421.97 L210.33,421.98 L210.53,421.98 L210.74,421.99 L210.95,421.99 L211.16,422.00 L211.37,422.00 L211.58,422.01 L211.79,422.01 L212.00,422.02 L212.21,422.02 L212.42,422.02 L212.63,422.03 L212.84,422.03 L212.98,422.04 M218.01,422.13 L218.22,422.14 L218.43,422.14 L218.64,422.14 L218.85,422.15 L219.06,422.15 L219.27,422.16 L219.47,422.16 L219.68,422.16 L219.89,422.17 L220.10,422.17 L220.31,422.17 L220.52,422.18 L220.73,422.18 L220.87,422.18 M225.90,422.25 L226.11,422.26 L226.32,422.26 L226.53,422.26 L226.74,422.26 L226.95,422.27 L227.16,422.27 L227.37,422.27 L227.58,422.27 L227.79,422.28 L228.00,422.28 L228.21,422.28 L228.41,422.28 L228.62,422.29 L228.76,422.29 M233.83,422.34 L234.04,422.34 L234.25,422.34 L234.46,422.34 L234.67,422.34 L234.88,422.35 L235.09,422.35 L235.29,422.35 L235.50,422.35 L235.71,422.35 L235.92,422.35 L236.13,422.36 L236.34,422.36 L236.55,422.36 L236.69,422.36 M241.72,422.40 L241.93,422.40 L242.14,422.40 L242.35,422.41 L242.56,422.41 L242.77,422.41 L242.98,422.41 L243.19,422.41 L243.40,422.41 L243.61,422.41 L243.82,422.42 L244.03,422.42 L244.23,422.42 L244.44,422.42 L244.58,422.42 M249.61,422.45 L249.82,422.45 L250.03,422.45 L250.24,422.46 L250.45,422.46 L250.66,422.46 L250.87,422.46 L251.08,422.46 L251.29,422.46 L251.50,422.46 L251.71,422.46 L251.92,422.47 L252.13,422.47 L252.34,422.47 L252.48,422.47 M257.51,422.49 L257.71,422.49 L257.92,422.49 L258.13,422.49 L258.34,422.49 L258.55,422.49 L258.76,422.50 L258.97,422.50 L259.18,422.50 L259.39,422.50 L259.60,422.50 L259.81,422.50 L260.02,422.50 L260.23,422.50 L260.37,422.50 M265.40,422.52 L265.61,422.52 L265.82,422.52 L266.03,422.52 L266.24,422.52 L266.45,422.52 L266.66,422.52 L266.86,422.52 L267.07,422.52 L267.28,422.52 L267.49,422.53 L267.70,422.53 L267.91,422.53 L268.12,422.53 L268.26,422.53 M273.33,422.54 L273.53,422.54 L273.74,422.55 L273.95,422.55 L274.16,422.55 L274.37,422.55 L274.58,422.55 L274.79,422.55 L275.00,422.55 L275.21,422.55 L275.42,422.55 L275.63,422.55 L275.84,422.55 L276.05,422.55 L276.19,422.55 M281.22,422.57 L281.43,422.57 L281.64,422.57 L281.85,422.57 L282.06,422.57 L282.27,422.57 L282.47,422.57 L282.68,422.57 L282.89,422.57 L283.10,422.57 L283.31,422.57 L283.52,422.57 L283.73,422.57 L283.94,422.57 L284.08,422.57 M289.11,422.58 L289.32,422.58 L289.53,422.58 L289.74,422.59 L289.95,422.59 L290.16,422.59 L290.37,422.59 L290.58,422.59 L290.79,422.59 L291.00,422.59 L291.21,422.59 L291.42,422.59 L291.62,422.59 L291.83,422.59 L291.97,422.59 M297.00,422.60 L297.21,422.60 L297.42,422.60 L297.63,422.60 L297.84,422.60 L298.05,422.60 L298.26,422.60 L298.47,422.60 L298.68,422.60 L298.89,422.60 L299.10,422.60 L299.31,422.60 L299.52,422.60 L299.73,422.60 L299.87,422.60 M304.90,422.60 L304.93,422.60 L304.97,422.60 L305.00,422.60" stroke-width="2.2"/>
<path d="M77.78,352.26 L78.28,352.40 L78.78,352.54 L79.28,352.68 L79.78,352.83 L80.28,352.99 L80.77,353.14 L81.27,353.30 L81.77,353.47 L82.27,353.63 L82.77,353.80 L83.27,353.98 L83.77,354.15 M91.29,357.24 L91.74,357.46 L92.20,357.67 L92.66,357.89 L93.12,358.11 L93.57,358.34 L94.03,358.57 L94.49,358.79 L94.94,359.03 L95.40,359.26 L95.86,359.50 L96.32,359.74 L96.77,359.98 L96.90,360.05 M103.92,364.20 L104.34,364.48 L104.75,364.75 L105.17,365.03 L105.58,365.31 L106.00,365.60 L106.41,365.89 L106.83,366.20 L107.25,366.51 L107.66,366.82 L108.08,367.15 L108.49,367.48 L108.91,367.82 L108.99,367.89 M115.14,373.25 L115.52,373.57 L115.89,373.89 L116.26,374.20 L116.64,374.51 L117.01,374.81 L117.39,375.11 L117.76,375.40 L118.13,375.69 L118.51,375.98 L118.88,376.27 L119.26,376.55 L119.63,376.83 L120.00,377.11 L120.05,377.14 M126.65,381.96 L127.03,382.23 L127.40,382.51 L127.77,382.79 L128.15,383.07 L128.52,383.36 L128.90,383.64 L129.27,383.93 L129.64,384.22 L130.02,384.52 L130.39,384.82 L130.77,385.12 L131.14,385.42 L131.51,385.72 L131.60,385.79 M137.96,390.94 L138.37,391.25 L138.79,391.56 L139.20,391.87 L139.62,392.18 L140.03,392.49 L140.45,392.79 L140.87,393.09 L141.28,393.40 L141.70,393.70 L142.11,394.00 L142.53,394.29 L142.94,394.59 L143.03,394.65 M149.80,399.18 L150.22,399.43 L150.63,399.69 L151.05,399.94 L151.46,400.19 L151.88,400.44 L152.29,400.68 L152.71,400.92 L153.12,401.16 L153.54,401.39 L153.96,401.62 L154.37,401.85 L154.79,402.07 L155.20,402.29 L155.24,402.31 M162.68,405.65 L163.14,405.85 L163.60,406.04 L164.05,406.24 L164.51,406.44 L164.97,406.64 L165.43,406.85 L165.88,407.05 L166.34,407.26 L166.80,407.46 L167.25,407.67 L167.71,407.87 L168.17,408.08 L168.42,408.19 M175.98,411.34 L176.44,411.51 L176.90,411.66 L177.35,411.82 L177.81,411.97 L178.27,412.12 L178.72,412.27 L179.18,412.42 L179.64,412.57 L180.09,412.72 L180.55,412.86 L181.01,413.00 L181.47,413.14 L181.92,413.28 M189.82,415.43 L190.32,415.55 L190.82,415.67 L191.32,415.78 L191.81,415.89 L192.31,416.00 L192.81,416.11 L193.31,416.22 L193.81,416.32 L194.31,416.43 L194.81,416.53 L195.30,416.64 L195.80,416.74 L195.93,416.76 M203.95,418.16 L204.45,418.23 L204.95,418.30 L205.44,418.36 L205.94,418.42 L206.44,418.47 L206.94,418.53 L207.44,418.59 L207.94,418.64 L208.44,418.70 L208.94,418.75 L209.43,418.80 L209.93,418.85 L210.18,418.88 M218.33,419.55 L218.83,419.58 L219.32,419.61 L219.82,419.64 L220.32,419.67 L220.82,419.69 L221.32,419.71 L221.82,419.74 L222.32,419.76 L222.82,419.78 L223.31,419.80 L223.81,419.82 L224.31,419.84 L224.60,419.85 M232.75,420.11 L233.25,420.12 L233.74,420.13 L234.24,420.15 L234.74,420.16 L235.24,420.17 L235.74,420.18 L236.24,420.19 L236.74,420.21 L237.24,420.22 L237.73,420.23 L238.23,420.24 L238.73,420.25 L239.02,420.26 M247.21,420.41 L247.71,420.42 L248.21,420.43 L248.71,420.44 L249.20,420.44 L249.70,420.45 L250.20,420.46 L250.70,420.47 L251.20,420.48 L251.70,420.48 L252.20,420.49 L252.69,420.50 L253.19,420.51 L253.44,420.51 M261.63,420.62 L262.13,420.63 L262.63,420.63 L263.13,420.64 L263.62,420.65 L264.12,420.65 L264.62,420.66 L265.12,420.66 L265.62,420.67 L266.12,420.68 L266.62,420.68 L267.12,420.69 L267.61,420.69 L267.90,420.70 M276.05,420.79 L276.55,420.79 L277.05,420.80 L277.55,420.80 L278.04,420.81 L278.54,420.81 L279.04,420.82 L279.54,420.82 L280.04,420.83 L280.54,420.83 L281.04,420.84 L281.54,420.84 L282.03,420.85 L282.32,420.85 M290.76,420.93 L291.30,420.93 L291.84,420.94 L292.38,420.94 L292.92,420.95 L293.46,420.95 L294.00,420.95 L294.54,420.96 L295.08,420.96 L295.62,420.97 L296.16,420.97 L296.70,420.98 L297.24,420.98 L297.33,420.98 M305.85,421.04 L306.39,421.04 L306.93,421.05 L307.47,421.05 L308.01,421.05 L308.55,421.06 L309.09,421.06 L309.63,421.06 L310.17,421.07 L310.71,421.07 L311.25,421.07 L311.79,421.08 L312.33,421.08 L312.41,421.08 M320.93,421.13 L321.39,421.13 L321.85,421.13 L322.30,421.13 L322.76,421.13 L323.22,421.14 L323.67,421.14 L324.13,421.14 L324.59,421.14 L325.05,421.14 L325.50,421.15 L325.96,421.15 L326.42,421.15 L326.50,421.15" stroke-width="1.9" stroke-linecap="round"/>
<path d="M76.80,288.50 L77.35,288.70 L77.90,288.93 L78.45,289.19 L79.01,289.46 L79.56,289.75 L80.11,290.06 L80.66,290.40 L81.21,290.76 L81.76,291.14 L82.32,291.55 L82.87,291.98 L83.42,292.44 L83.97,292.92 L84.52,293.43 L85.07,293.98 L85.63,294.59 L86.18,295.26 L86.73,295.97 L87.28,296.72 L87.83,297.49 L88.38,298.26 L88.93,299.05 L89.49,299.87 L90.04,300.72 L90.59,301.59 L91.14,302.48 L91.69,303.39 L92.24,304.31 L92.80,305.25 L93.35,306.22 L93.90,307.22 L94.45,308.24 L95.00,309.29 L95.55,310.38 L96.10,311.51 L96.66,312.65 L97.21,313.80 L97.76,314.92 L98.31,316.02 L98.86,317.12 L99.41,318.22 L99.97,319.31 L100.52,320.40 L101.07,321.49 L101.62,322.58 L102.17,323.67 L102.72,324.76 L103.28,325.85 L103.83,326.95 L104.38,328.03 L104.93,329.11 L105.48,330.19 L106.03,331.27 L106.58,332.36 L107.14,333.45 L107.69,334.56 L108.24,335.69 L108.79,336.84 L109.34,338.02 L109.89,339.25 L110.45,340.50 L111.00,341.78 L111.55,343.07 L112.10,344.35 L112.65,345.62 L113.20,346.85 L113.75,348.08 L114.31,349.31 L114.86,350.54 L115.41,351.76 L115.96,352.98 L116.51,354.18 L117.06,355.37 L117.62,356.54 L118.17,357.70 L118.72,358.83 L119.27,359.95 L119.82,361.03 L120.37,362.10 L120.93,363.15 L121.48,364.19 L122.03,365.23 L122.58,366.27 L123.13,367.32 L123.68,368.38 L124.23,369.44 L124.79,370.50 L125.34,371.54 L125.89,372.58 L126.44,373.60 L126.99,374.60 L127.54,375.58 L128.10,376.53 L128.65,377.48 L129.20,378.41 L129.75,379.32 L130.30,380.22 L130.85,381.11 L131.40,381.98 L131.96,382.83 L132.51,383.66 L133.06,384.48 L133.61,385.27 L134.16,386.05 L134.71,386.82 L135.27,387.57 L135.82,388.31 L136.37,389.04 L136.92,389.75 L137.47,390.46 L138.02,391.17 L138.58,391.87 L139.13,392.56 L139.68,393.24 L140.23,393.92 L140.78,394.57 L141.33,395.21 L141.88,395.83 L142.44,396.43 L142.99,397.01 L143.54,397.58 L144.09,398.13 L144.64,398.67 L145.19,399.21 L145.75,399.73 L146.30,400.24 L146.85,400.74 L147.40,401.24 L147.95,401.73 L148.50,402.21 L149.05,402.69 L149.61,403.16 L150.16,403.63 L150.71,404.10 L151.26,404.56 L151.81,405.02 L152.36,405.47 L152.92,405.91 L153.47,406.35 L154.02,406.77 L154.57,407.19 L155.12,407.59 L155.67,407.98 L156.23,408.35 L156.78,408.72 L157.33,409.08 L157.88,409.44 L158.43,409.79 L158.98,410.14 L159.53,410.48 L160.09,410.81 L160.64,411.14 L161.19,411.46 L161.74,411.77 L162.29,412.08 L162.84,412.38 L163.40,412.68 L163.95,412.97 L164.50,413.25 L165.05,413.53 L165.60,413.80 L166.15,414.06 L166.71,414.33 L167.26,414.58 L167.81,414.84 L168.36,415.08 L168.91,415.33 L169.46,415.56 L170.01,415.79 L170.57,416.01 L171.12,416.23 L171.67,416.44 L172.22,416.63 L172.77,416.82 L173.32,417.01 L173.88,417.18 L174.43,417.35 L174.98,417.52 L175.53,417.68 L176.08,417.84 L176.63,418.00 L177.18,418.14 L177.74,418.29 L178.29,418.43 L178.84,418.56 L179.39,418.69 L179.94,418.82 L180.49,418.94 L181.05,419.05 L181.60,419.16 L182.15,419.27 L182.70,419.38 L183.25,419.48 L183.80,419.59 L184.36,419.68 L184.91,419.78 L185.46,419.87 L186.01,419.96 L186.56,420.04 L187.11,420.12 L187.66,420.20 L188.22,420.27 L188.77,420.33 L189.32,420.40 L189.87,420.46 L190.42,420.52 L190.97,420.58 L191.53,420.64 L192.08,420.69 L192.63,420.75 L193.18,420.80 L193.73,420.85 L194.28,420.90 L194.83,420.94 L195.39,420.98 L195.94,421.02 L196.49,421.06 L197.04,421.10 L197.59,421.13 L198.14,421.16 L198.70,421.19 L199.25,421.21 L199.80,421.24 L200.35,421.26 L200.90,421.29 L201.45,421.31 L202.01,421.33 L202.56,421.35 L203.11,421.37 L203.66,421.39 L204.21,421.41 L204.76,421.42 L205.31,421.44 L205.87,421.46 L206.42,421.47 L206.97,421.48 L207.52,421.50 L208.07,421.51 L208.62,421.52 L209.18,421.53 L209.73,421.54 L210.28,421.55 L210.83,421.56 L211.38,421.57 L211.93,421.58 L212.48,421.59 L213.04,421.60 L213.59,421.61 L214.14,421.62 L214.69,421.63 L215.24,421.63 L215.79,421.64 L216.35,421.65 L216.90,421.66 L217.45,421.66 L218.00,421.67 L218.55,421.68 L219.10,421.68 L219.66,421.69 L220.21,421.70 L220.76,421.70 L221.31,421.71 L221.86,421.72 L222.41,421.72 L222.96,421.73 L223.52,421.73 L224.07,421.74 L224.62,421.75 L225.17,421.75 L225.72,421.76 L226.27,421.76 L226.83,421.77 L227.38,421.77 L227.93,421.78 L228.48,421.78 L229.03,421.79 L229.58,421.79 L230.13,421.80 L230.69,421.80 L231.24,421.81 L231.79,421.81 L232.34,421.82 L232.89,421.82 L233.44,421.83 L234.00,421.83 L234.55,421.84 L235.10,421.84 L235.65,421.85 L236.20,421.85 L236.75,421.86 L237.31,421.86 L237.86,421.86 L238.41,421.87 L238.96,421.87 L239.51,421.88 L240.06,421.88 L240.61,421.88 L241.17,421.89 L241.72,421.89 L242.27,421.90 L242.82,421.90 L243.37,421.90 L243.92,421.91 L244.48,421.91 L245.03,421.92 L245.58,421.92 L246.13,421.92 L246.68,421.93 L247.23,421.93 L247.78,421.93 L248.34,421.94 L248.89,421.94 L249.44,421.95 L249.99,421.95 L250.54,421.95 L251.09,421.96 L251.65,421.96 L252.20,421.97 L252.75,421.97 L253.30,421.97 L253.85,421.98 L254.40,421.98 L254.96,421.98 L255.51,421.99 L256.06,421.99 L256.61,422.00 L257.16,422.00 L257.71,422.00 L258.26,422.01 L258.82,422.01 L259.37,422.01 L259.92,422.02 L260.47,422.02 L261.02,422.03 L261.57,422.03 L262.13,422.03 L262.68,422.04 L263.23,422.04 L263.78,422.04 L264.33,422.05 L264.88,422.05 L265.44,422.06 L265.99,422.06 L266.54,422.06 L267.09,422.07 L267.64,422.07 L268.19,422.07 L268.74,422.08 L269.30,422.08 L269.85,422.08 L270.40,422.09 L270.95,422.09 L271.50,422.09 L272.05,422.10 L272.61,422.10 L273.16,422.11 L273.71,422.11 L274.26,422.11 L274.81,422.12 L275.36,422.12 L275.91,422.12 L276.47,422.13 L277.02,422.13 L277.57,422.13 L278.12,422.14 L278.67,422.14 L279.22,422.14 L279.78,422.15 L280.33,422.15 L280.88,422.15 L281.43,422.16 L281.98,422.16 L282.53,422.16 L283.09,422.16 L283.64,422.17 L284.19,422.17 L284.74,422.17 L285.29,422.18 L285.84,422.18 L286.39,422.18 L286.95,422.19 L287.50,422.19 L288.05,422.19 L288.60,422.19 L289.15,422.20 L289.70,422.20 L290.26,422.20 L290.81,422.21 L291.36,422.21 L291.91,422.21 L292.46,422.21 L293.01,422.22 L293.56,422.22 L294.12,422.22 L294.67,422.23 L295.22,422.23 L295.77,422.23 L296.32,422.23 L296.87,422.24 L297.43,422.24 L297.98,422.24 L298.53,422.24 L299.08,422.25 L299.63,422.25 L300.18,422.25 L300.74,422.25 L301.29,422.26 L301.84,422.26 L302.39,422.26 L302.94,422.26 L303.49,422.27 L304.04,422.27 L304.60,422.27 L305.15,422.27 L305.70,422.27 L306.25,422.28 L306.80,422.28 L307.35,422.28 L307.91,422.28 L308.46,422.29 L309.01,422.29 L309.56,422.29 L310.11,422.29 L310.66,422.30 L311.21,422.30 L311.77,422.30 L312.32,422.30 L312.87,422.31 L313.42,422.31 L313.97,422.31 L314.52,422.31 L315.08,422.31 L315.63,422.32 L316.18,422.32 L316.73,422.32 L317.28,422.32 L317.83,422.33 L318.39,422.33 L318.94,422.33 L319.49,422.33 L320.04,422.34 L320.59,422.34 L321.14,422.34 L321.69,422.34 L322.25,422.34 L322.80,422.35 L323.35,422.35 L323.90,422.35 L324.45,422.35 L325.00,422.35 L325.56,422.36 L326.11,422.36 L326.66,422.36 L327.21,422.36 L327.76,422.37 L328.31,422.37 L328.86,422.37 L329.42,422.37 L329.97,422.37 L330.52,422.38 L331.07,422.38 L331.62,422.38 L332.17,422.38 L332.73,422.38 L333.28,422.39 L333.83,422.39 L334.38,422.39 L334.93,422.39 L335.48,422.39 L336.04,422.39 L336.59,422.40 L337.14,422.40 L337.69,422.40 L338.24,422.40 L338.79,422.40 L339.34,422.40 L339.90,422.41 L340.45,422.41 L341.00,422.41 L341.55,422.41 L342.10,422.41 L342.65,422.41 L343.21,422.42 L343.76,422.42 L344.31,422.42 L344.86,422.42 L345.41,422.42 L345.96,422.42 L346.52,422.42 L347.07,422.43 L347.62,422.43 L348.17,422.43 L348.72,422.43 L349.27,422.43 L349.82,422.43 L350.38,422.43 L350.93,422.43 L351.48,422.44 L352.03,422.44 L352.58,422.44 L353.13,422.44 L353.69,422.44 L354.24,422.44 L354.79,422.44 L355.34,422.44 L355.89,422.44 L356.44,422.45 L356.99,422.45 L357.55,422.45 L358.10,422.45 L358.65,422.45 L359.20,422.45 L359.75,422.45 L360.30,422.45 L360.86,422.45 L361.41,422.45 L361.96,422.45 L362.51,422.45 L363.06,422.45 L363.61,422.45 L364.17,422.45 L364.72,422.46 L365.27,422.46 L365.82,422.46 L366.37,422.46 L366.92,422.46 L367.47,422.46 L368.03,422.46 L368.58,422.46 L369.13,422.46 L369.68,422.46 L370.23,422.46 L370.78,422.46 L371.34,422.46 L371.89,422.46 L372.44,422.46 L372.99,422.46 L373.54,422.47 L374.09,422.47 L374.64,422.47 L375.20,422.47 L375.75,422.47 L376.30,422.47 L376.85,422.47 L377.40,422.47 L377.95,422.47 L378.51,422.47 L379.06,422.47 L379.61,422.47 L380.16,422.47 L380.71,422.47 L381.26,422.47 L381.82,422.47 L382.37,422.48 L382.92,422.48 L383.47,422.48 L384.02,422.48 L384.57,422.48 L385.12,422.48 L385.68,422.48 L386.23,422.48 L386.78,422.48 L387.33,422.48 L387.88,422.48 L388.43,422.48 L388.99,422.48 L389.54,422.48 L390.09,422.48 L390.64,422.48 L391.19,422.48 L391.74,422.48 L392.29,422.49 L392.85,422.49 L393.40,422.49 L393.95,422.49 L394.50,422.49 L395.05,422.49 L395.60,422.49 L396.16,422.49 L396.71,422.49 L397.26,422.49 L397.81,422.49 L398.36,422.49 L398.91,422.49 L399.47,422.49 L400.02,422.49 L400.57,422.49 L401.12,422.49 L401.67,422.49 L402.22,422.49 L402.77,422.50 L403.33,422.50 L403.88,422.50 L404.43,422.50 L404.98,422.50 L405.53,422.50 L406.08,422.50 L406.64,422.50 L407.19,422.50 L407.74,422.50 L408.29,422.50 L408.84,422.50 L409.39,422.50 L409.94,422.50 L410.50,422.50 L411.05,422.50 L411.60,422.50 L412.15,422.50 L412.70,422.50 L413.25,422.50 L413.81,422.50 L414.36,422.51 L414.91,422.51 L415.46,422.51 L416.01,422.51 L416.56,422.51 L417.12,422.51 L417.67,422.51 L418.22,422.51 L418.77,422.51 L419.32,422.51 L419.87,422.51 L420.42,422.51 L420.98,422.51 L421.53,422.51 L422.08,422.51 L422.63,422.51 L423.18,422.51 L423.73,422.51 L424.29,422.51 L424.84,422.51 L425.39,422.51 L425.94,422.51 L426.49,422.51 L427.04,422.52 L427.59,422.52 L428.15,422.52 L428.70,422.52 L429.25,422.52 L429.80,422.52 L430.35,422.52 L430.90,422.52 L431.46,422.52 L432.01,422.52 L432.56,422.52 L433.11,422.52 L433.66,422.52 L434.21,422.52 L434.77,422.52 L435.32,422.52 L435.87,422.52 L436.42,422.52 L436.97,422.52 L437.52,422.52 L438.07,422.52 L438.63,422.52 L439.18,422.52 L439.73,422.52 L440.28,422.52 L440.83,422.52 L441.38,422.53 L441.94,422.53 L442.49,422.53 L443.04,422.53 L443.59,422.53 L444.14,422.53 L444.69,422.53 L445.25,422.53 L445.80,422.53 L446.35,422.53 L446.90,422.53 L447.45,422.53 L448.00,422.53 L448.55,422.53 L449.11,422.53 L449.66,422.53 L450.21,422.53 L450.76,422.53 L451.31,422.53 L451.86,422.53 L452.42,422.53 L452.97,422.53 L453.52,422.53 L454.07,422.53 L454.62,422.53 L455.17,422.53 L455.72,422.53 L456.28,422.53 L456.83,422.53 L457.38,422.53 L457.93,422.53 L458.48,422.53 L459.03,422.54 L459.59,422.54 L460.14,422.54 L460.69,422.54 L461.24,422.54 L461.79,422.54 L462.34,422.54 L462.90,422.54 L463.45,422.54 L464.00,422.54 L464.55,422.54 L465.10,422.54 L465.65,422.54 L466.20,422.54 L466.76,422.54 L467.31,422.54 L467.86,422.54 L468.41,422.54 L468.96,422.54 L469.51,422.54 L470.07,422.54 L470.62,422.54 L471.17,422.54 L471.72,422.54 L472.27,422.54 L472.82,422.54 L473.37,422.54 L473.93,422.54 L474.48,422.54 L475.03,422.54 L475.58,422.54 L476.13,422.54 L476.68,422.54 L477.24,422.54 L477.79,422.54 L478.34,422.54 L478.89,422.54 L479.44,422.54 L479.99,422.54 L480.55,422.54 L481.10,422.54 L481.65,422.54 L482.20,422.54 L482.75,422.54 L483.30,422.54 L483.85,422.54 L484.41,422.55 L484.96,422.55 L485.51,422.55 L486.06,422.55 L486.61,422.55 L487.16,422.55 L487.72,422.55 L488.27,422.55 L488.82,422.55 L489.37,422.55 L489.92,422.55 L490.47,422.55 L491.02,422.55 L491.58,422.55 L492.13,422.55 L492.68,422.55 L493.23,422.55 L493.78,422.55 L494.33,422.55 L494.89,422.55 L495.44,422.55 L495.99,422.55 L496.54,422.55 L497.09,422.55 L497.64,422.55 L498.20,422.55 L498.75,422.55 L499.30,422.55 L499.85,422.55 L500.40,422.55 L500.95,422.55 L501.50,422.55 L502.06,422.55 L502.61,422.55 L503.16,422.55 L503.71,422.55 L504.26,422.55 L504.81,422.55 L505.37,422.55 L505.92,422.55 L506.47,422.55 L507.02,422.55 L507.57,422.55 L508.12,422.55 L508.67,422.55 L509.23,422.55 L509.78,422.55 L510.33,422.55 L510.88,422.55 L511.43,422.55 L511.98,422.55 L512.54,422.55 L513.09,422.55 L513.64,422.55 L514.19,422.55 L514.74,422.55 L515.29,422.55 L515.85,422.55 L516.40,422.55 L516.95,422.55 L517.50,422.55"/>
</g>
<g fill="none" stroke="#262626" stroke-width="1.25" stroke-linejoin="round">
<rect x="56.05" y="265.05" width="461.45" height="163.50"/>
<path d="M73.60,428.55v8.1M144.79,428.55v8.1M215.98,428.55v8.1M287.17,428.55v8.1M358.36,428.55v8.1M429.55,428.55v8.1M500.74,428.55v8.1M56.05,422.65h-7.4M56.05,372.20h-7.4M56.05,321.75h-7.4M56.05,271.30h-7.4"/>
</g>
<text x="73.10" y="452.90" font-size="13.8" text-anchor="middle" textLength="6.20" lengthAdjust="spacingAndGlyphs">0</text>
<text x="144.29" y="452.90" font-size="13.8" text-anchor="middle" textLength="12.60" lengthAdjust="spacingAndGlyphs">20</text>
<text x="215.48" y="452.90" font-size="13.8" text-anchor="middle" textLength="12.60" lengthAdjust="spacingAndGlyphs">40</text>
<text x="286.67" y="452.90" font-size="13.8" text-anchor="middle" textLength="12.60" lengthAdjust="spacingAndGlyphs">60</text>
<text x="357.86" y="452.90" font-size="13.8" text-anchor="middle" textLength="12.60" lengthAdjust="spacingAndGlyphs">80</text>
<text x="429.05" y="452.90" font-size="13.8" text-anchor="middle" textLength="18.80" lengthAdjust="spacingAndGlyphs">100</text>
<text x="500.24" y="452.90" font-size="13.8" text-anchor="middle" textLength="18.80" lengthAdjust="spacingAndGlyphs">120</text>
<text x="40.20" y="423.15" font-size="13.6" text-anchor="middle" transform="rotate(-90 40.20 423.15)" textLength="37.00" lengthAdjust="spacingAndGlyphs" style="stroke-width:0.5px">0.0000</text>
<text x="40.20" y="372.70" font-size="13.6" text-anchor="middle" transform="rotate(-90 40.20 372.70)" textLength="37.00" lengthAdjust="spacingAndGlyphs" style="stroke-width:0.5px">0.0005</text>
<text x="40.20" y="322.25" font-size="13.6" text-anchor="middle" transform="rotate(-90 40.20 322.25)" textLength="37.00" lengthAdjust="spacingAndGlyphs" style="stroke-width:0.5px">0.0010</text>
<text x="40.20" y="271.80" font-size="13.6" text-anchor="middle" transform="rotate(-90 40.20 271.80)" textLength="37.00" lengthAdjust="spacingAndGlyphs" style="stroke-width:0.5px">0.0015</text>
<text x="286.77" y="473.40" font-size="13.6" text-anchor="middle" textLength="69.30" lengthAdjust="spacingAndGlyphs">Distance (m)</text>
<text x="0" y="0" font-size="13.6" text-anchor="middle" transform="translate(10.80 346.40) rotate(-90) scale(0.86 1)" textLength="173.95" lengthAdjust="spacing" style="stroke-width:0.42px">Dispersal probability per m<tspan font-size="8.8" dy="-4.3">2</tspan></text>
<text x="0.40" y="259.80" font-size="18.8" text-anchor="start" font-weight="bold" style="stroke-width:0.25px">b</text>
<g fill="none" stroke="#111" stroke-width="1.7">
<path d="M451.4,279.60H474.0"/>
<path d="M451.4,294.40H474.0" stroke-dasharray="7.7 7.3"/>
<path d="M451.2,309.50H474.0" stroke-dasharray="2.6 4.9" stroke-width="2.0"/>
</g>
<text x="484.30" y="286.10" font-size="13.5" text-anchor="start" textLength="27.00" lengthAdjust="spacingAndGlyphs">DRM</text>
<text x="484.30" y="300.70" font-size="13.5" text-anchor="start" textLength="18.50" lengthAdjust="spacingAndGlyphs">DM</text>
<text x="484.30" y="315.30" font-size="13.5" text-anchor="start" textLength="18.50" lengthAdjust="spacingAndGlyphs">SM</text>
</g>
<g id="panel-c">
<g clip-path="url(#cp2)" fill="none" stroke="#111" stroke-width="1.7" stroke-linejoin="round">
<path d="M96.00,466.95 L96.03,467.63 L96.07,468.32 M96.35,473.79 L96.38,474.44 L96.42,475.09 L96.45,475.74 M96.77,481.55 L96.80,482.17 L96.84,482.79 L96.87,483.40 M97.19,488.82 L97.22,489.40 L97.26,489.98 L97.29,490.56 L97.33,491.15 M97.64,496.10 L97.68,496.65 L97.71,497.19 L97.75,497.73 L97.78,498.24 M98.17,503.77 L98.20,504.26 L98.24,504.74 L98.27,505.22 L98.30,505.70 M98.69,510.87 L98.72,511.34 L98.76,511.80 L98.79,512.26 L98.83,512.72 L98.86,513.17 M99.28,518.56 L99.32,519.00 L99.35,519.44 L99.39,519.88 L99.42,520.32 L99.46,520.76 M99.88,525.90 L99.91,526.31 L99.95,526.73 L99.98,527.15 L100.02,527.56 L100.05,527.98 M100.51,533.31 L100.54,533.72 L100.57,534.12 L100.61,534.52 L100.64,534.91 L100.68,535.31 L100.71,535.71 M101.17,540.83 L101.20,541.22 L101.24,541.61 L101.27,542.00 L101.31,542.38 L101.34,542.77 L101.38,543.15 M101.83,548.08 L101.87,548.45 L101.90,548.83 L101.94,549.20 L101.97,549.57 L102.01,549.93 L102.04,550.29 L102.08,550.66 M102.57,555.62 L102.60,555.97 L102.64,556.32 L102.67,556.66 L102.71,557.00 L102.74,557.33 L102.77,557.67 L102.81,558.00 M103.33,562.99 L103.37,563.31 L103.40,563.63 L103.44,563.95 L103.47,564.26 L103.51,564.58 L103.54,564.90 L103.58,565.22 M104.17,570.34 L104.21,570.63 L104.24,570.91 L104.28,571.19 L104.31,571.47 L104.35,571.76 L104.38,572.04 L104.42,572.31 L104.45,572.56 L104.49,572.82 M105.18,577.69 L105.22,577.92 L105.25,578.14 L105.29,578.37 L105.32,578.59 L105.36,578.81 L105.39,579.04 L105.43,579.26 L105.46,579.48 L105.50,579.70 L105.53,579.91 L105.57,580.13 M106.37,585.14 L106.41,585.36 L106.44,585.58 L106.48,585.80 L106.51,586.03 L106.55,586.26 L106.58,586.49 L106.62,586.72 L106.65,586.95 L106.69,587.18 L106.72,587.41 M107.45,592.35 L107.49,592.59 L107.52,592.82 L107.56,593.06 L107.59,593.29 L107.63,593.52 L107.66,593.75 L107.70,593.98 L107.73,594.21 L107.77,594.44 L107.80,594.67 L107.84,594.90 M108.64,599.74 L108.68,599.93 L108.71,600.12 L108.75,600.31 L108.78,600.50 L108.82,600.69 L108.85,600.88 L108.89,601.07 L108.92,601.26 L108.96,601.45 L108.99,601.63 L109.03,601.82 L109.06,602.00 L109.10,602.18 M110.07,607.01 L110.11,607.17 L110.14,607.33 L110.18,607.49 L110.21,607.65 L110.25,607.81 L110.28,607.97 L110.32,608.13 L110.35,608.29 L110.39,608.45 L110.42,608.60 L110.46,608.75 L110.49,608.91 L110.53,609.06 L110.56,609.22 L110.60,609.37 L110.63,609.53 L110.67,609.68 M111.92,614.73 L111.96,614.86 L111.99,615.00 L112.03,615.13 L112.06,615.26 L112.10,615.40 L112.13,615.53 L112.17,615.67 L112.20,615.80 L112.24,615.94 L112.27,616.07 L112.31,616.21 L112.34,616.34 L112.38,616.48 L112.41,616.61 L112.45,616.75 L112.48,616.88 L112.52,617.02 L112.55,617.16 L112.59,617.29 L112.62,617.43 M113.92,622.38 L113.95,622.51 L113.99,622.64 L114.02,622.77 L114.05,622.90 L114.09,623.03 L114.12,623.17 L114.16,623.30 L114.19,623.43 L114.23,623.56 L114.26,623.69 L114.30,623.83 L114.33,623.96 L114.37,624.09 L114.40,624.22 L114.44,624.36 L114.47,624.49 L114.51,624.62 L114.54,624.76 L114.58,624.89 L114.61,625.02 M115.94,630.02 L115.98,630.14 L116.01,630.27 L116.05,630.39 L116.08,630.51 L116.12,630.63 L116.15,630.76 L116.19,630.88 L116.22,631.00 L116.26,631.12 L116.29,631.25 L116.32,631.36 L116.36,631.48 L116.39,631.59 L116.43,631.71 L116.46,631.82 L116.50,631.94 L116.53,632.06 L116.57,632.17 L116.60,632.29 L116.64,632.40 L116.67,632.51 L116.71,632.63 M118.39,637.47 L118.46,637.65 L118.53,637.83 L118.59,638.01 L118.66,638.19 L118.73,638.37 L118.80,638.54 L118.87,638.72 L118.94,638.89 L119.01,639.06 L119.08,639.24 L119.15,639.40 L119.22,639.57 L119.29,639.74 L119.36,639.91 L119.43,640.08 M121.60,644.65 L121.70,644.85 L121.81,645.05 L121.91,645.25 L122.02,645.44 L122.12,645.63 L122.23,645.83 L122.33,646.02 L122.44,646.20 L122.54,646.39 L122.65,646.57 L122.75,646.75 L122.86,646.93 L122.96,647.11 L123.00,647.17 M125.93,651.26 L126.07,651.43 L126.21,651.60 L126.35,651.77 L126.49,651.93 L126.63,652.10 L126.77,652.27 L126.91,652.44 L127.05,652.61 L127.19,652.77 L127.33,652.94 L127.47,653.10 L127.60,653.26 L127.74,653.43 M131.27,657.07 L131.45,657.23 L131.62,657.39 L131.80,657.55 L131.97,657.70 L132.14,657.86 L132.32,658.01 L132.49,658.15 L132.67,658.30 L132.84,658.44 L133.02,658.58 L133.19,658.72 L133.37,658.85 L133.44,658.90 M137.73,661.58 L137.94,661.70 L138.15,661.81 L138.36,661.92 L138.57,662.03 L138.78,662.14 L138.99,662.24 L139.20,662.35 L139.41,662.46 L139.62,662.56 L139.83,662.66 L140.04,662.76 L140.25,662.86 L140.28,662.88 M144.93,664.76 L145.14,664.83 L145.35,664.90 L145.56,664.97 L145.76,665.04 L145.97,665.12 L146.18,665.18 L146.39,665.25 L146.60,665.32 L146.81,665.39 L147.02,665.45 L147.23,665.52 L147.44,665.58 L147.65,665.65 M152.57,666.84 L152.78,666.87 L152.99,666.91 L153.20,666.95 L153.41,666.99 L153.62,667.03 L153.83,667.06 L154.04,667.10 L154.25,667.13 L154.46,667.17 L154.67,667.20 L154.88,667.24 L155.09,667.27 L155.30,667.31 L155.37,667.32 M160.36,668.09 L160.57,668.12 L160.78,668.15 L160.99,668.18 L161.20,668.21 L161.41,668.24 L161.62,668.27 L161.83,668.30 L162.04,668.32 L162.25,668.35 L162.46,668.38 L162.67,668.40 L162.88,668.43 L163.09,668.45 L163.19,668.46 M168.22,668.88 L168.43,668.90 L168.64,668.91 L168.85,668.92 L169.06,668.94 L169.27,668.95 L169.48,668.97 L169.69,668.99 L169.90,669.00 L170.11,669.02 L170.32,669.04 L170.52,669.05 L170.73,669.07 L170.94,669.09 L171.08,669.10 M176.08,669.57 L176.29,669.59 L176.50,669.61 L176.71,669.63 L176.92,669.65 L177.12,669.67 L177.33,669.69 L177.54,669.71 L177.75,669.72 L177.96,669.74 L178.17,669.76 L178.38,669.78 L178.59,669.80 L178.80,669.82 L178.94,669.83 M183.97,670.18 L184.18,670.20 L184.39,670.21 L184.60,670.22 L184.81,670.24 L185.02,670.25 L185.23,670.26 L185.44,670.28 L185.65,670.29 L185.86,670.30 L186.07,670.31 L186.27,670.32 L186.48,670.34 L186.69,670.35 L186.83,670.36 M191.86,670.62 L192.07,670.63 L192.28,670.64 L192.49,670.65 L192.70,670.66 L192.91,670.67 L193.12,670.68 L193.33,670.69 L193.54,670.70 L193.75,670.71 L193.96,670.71 L194.17,670.72 L194.38,670.73 L194.59,670.74 L194.73,670.75 M199.75,670.96 L199.96,670.97 L200.17,670.98 L200.38,670.99 L200.59,670.99 L200.80,671.00 L201.01,671.01 L201.22,671.02 L201.43,671.03 L201.64,671.03 L201.85,671.04 L202.06,671.05 L202.27,671.05 L202.48,671.06 L202.62,671.07 M207.65,671.20 L207.86,671.21 L208.07,671.21 L208.28,671.22 L208.49,671.22 L208.69,671.23 L208.90,671.23 L209.11,671.24 L209.32,671.24 L209.53,671.25 L209.74,671.25 L209.95,671.26 L210.16,671.26 L210.37,671.27 L210.51,671.27 M215.54,671.38 L215.75,671.38 L215.96,671.39 L216.17,671.39 L216.38,671.39 L216.59,671.40 L216.80,671.40 L217.01,671.41 L217.22,671.41 L217.43,671.41 L217.64,671.42 L217.84,671.42 L218.05,671.43 L218.26,671.43 L218.40,671.43 M223.43,671.51 L223.64,671.52 L223.85,671.52 L224.06,671.52 L224.27,671.53 L224.48,671.53 L224.69,671.53 L224.90,671.53 L225.11,671.54 L225.32,671.54 L225.53,671.54 L225.74,671.55 L225.95,671.55 L226.16,671.55 L226.30,671.55 M231.32,671.61 L231.53,671.61 L231.74,671.61 L231.95,671.61 L232.16,671.62 L232.37,671.62 L232.58,671.62 L232.79,671.62 L233.00,671.62 L233.21,671.63 L233.42,671.63 L233.63,671.63 L233.84,671.63 L234.05,671.63 L234.19,671.63 M239.22,671.68 L239.43,671.68 L239.64,671.68 L239.85,671.68 L240.06,671.68 L240.26,671.69 L240.47,671.69 L240.68,671.69 L240.89,671.69 L241.10,671.69 L241.31,671.69 L241.52,671.70 L241.73,671.70 L241.94,671.70 L242.08,671.70 M247.14,671.73 L247.35,671.74 L247.56,671.74 L247.77,671.74 L247.98,671.74 L248.19,671.74 L248.40,671.74 L248.61,671.74 L248.82,671.75 L249.03,671.75 L249.24,671.75 L249.45,671.75 L249.66,671.75 L249.87,671.75 L250.01,671.75 M255.04,671.78 L255.25,671.78 L255.46,671.78 L255.67,671.78 L255.88,671.78 L256.08,671.78 L256.29,671.78 L256.50,671.78 L256.71,671.79 L256.92,671.79 L257.13,671.79 L257.34,671.79 L257.55,671.79 L257.76,671.79 L257.90,671.79 M262.93,671.81 L263.14,671.81 L263.35,671.81 L263.56,671.81 L263.77,671.81 L263.98,671.81 L264.19,671.81 L264.40,671.81 L264.61,671.81 L264.82,671.81 L265.02,671.82 L265.23,671.82 L265.44,671.82 L265.65,671.82 L265.79,671.82 M270.82,671.83 L271.03,671.84 L271.24,671.84 L271.45,671.84 L271.66,671.84 L271.87,671.84 L272.08,671.84 L272.29,671.84 L272.50,671.84 L272.71,671.84 L272.92,671.84 L273.13,671.84 L273.34,671.84 L273.55,671.84 L273.69,671.84 M278.71,671.86 L278.92,671.86 L279.13,671.86 L279.34,671.86 L279.55,671.86 L279.76,671.86 L279.97,671.86 L280.18,671.86 L280.39,671.86 L280.60,671.86 L280.81,671.86 L281.02,671.86 L281.23,671.86 L281.44,671.87 L281.61,671.87 M286.64,671.88 L286.85,671.88 L287.06,671.88 L287.27,671.88 L287.48,671.88 L287.69,671.88 L287.90,671.88 L288.11,671.88 L288.32,671.88 L288.53,671.88 L288.74,671.88 L288.95,671.88 L289.16,671.88 L289.37,671.88 L289.51,671.88 M294.53,671.89 L294.74,671.89 L294.95,671.89 L295.16,671.89 L295.37,671.89 L295.58,671.89 L295.79,671.89 L296.00,671.89 L296.21,671.89 L296.42,671.89 L296.63,671.89 L296.84,671.89 L297.05,671.90 L297.26,671.90 L297.40,671.90 M302.43,671.90 L302.64,671.90 L302.85,671.90 L303.06,671.90 L303.26,671.90 L303.47,671.90 L303.68,671.90 L303.89,671.90 L304.10,671.90 L304.31,671.90 L304.52,671.90 L304.73,671.90 L304.94,671.90 L305.15,671.90 L305.29,671.90" stroke-width="2.2"/>
<path d="M77.80,661.32 L78.31,661.35 L78.83,661.37 L79.35,661.39 L79.87,661.42 L80.38,661.44 L80.90,661.46 L81.42,661.49 L81.94,661.52 L82.45,661.54 L82.97,661.57 L83.49,661.60 L84.01,661.63 L84.05,661.63 M92.21,662.14 L92.72,662.18 L93.24,662.21 L93.76,662.25 L94.28,662.28 L94.79,662.32 L95.31,662.36 L95.83,662.40 L96.35,662.44 L96.86,662.49 L97.38,662.53 L97.90,662.58 L98.42,662.63 L98.46,662.63 M106.58,663.42 L107.09,663.47 L107.61,663.52 L108.13,663.56 L108.65,663.61 L109.16,663.65 L109.68,663.69 L110.20,663.73 L110.72,663.77 L111.23,663.81 L111.75,663.84 L112.27,663.88 L112.79,663.92 L112.83,663.92 M120.99,664.45 L121.50,664.48 L122.02,664.52 L122.54,664.55 L123.06,664.58 L123.57,664.62 L124.09,664.65 L124.61,664.69 L125.13,664.72 L125.64,664.76 L126.16,664.79 L126.68,664.83 L127.20,664.86 L127.24,664.86 M135.40,665.40 L135.91,665.43 L136.43,665.46 L136.95,665.50 L137.47,665.53 L137.98,665.56 L138.50,665.59 L139.02,665.62 L139.54,665.65 L140.05,665.68 L140.57,665.70 L141.09,665.73 L141.61,665.76 L141.65,665.76 M149.81,666.16 L150.32,666.19 L150.84,666.21 L151.36,666.24 L151.88,666.27 L152.39,666.29 L152.91,666.32 L153.43,666.35 L153.95,666.38 L154.46,666.41 L154.98,666.44 L155.50,666.47 L156.02,666.50 L156.06,666.50 M164.22,667.11 L164.73,667.15 L165.25,667.19 L165.77,667.23 L166.29,667.28 L166.80,667.32 L167.32,667.36 L167.84,667.40 L168.36,667.44 L168.87,667.48 L169.39,667.51 L169.91,667.55 L170.43,667.59 L170.47,667.60 M178.59,668.24 L179.10,668.28 L179.62,668.32 L180.14,668.36 L180.66,668.40 L181.17,668.44 L181.69,668.48 L182.21,668.51 L182.73,668.55 L183.24,668.59 L183.76,668.62 L184.28,668.66 L184.80,668.69 L184.84,668.69 M193.00,669.11 L193.51,669.13 L194.03,669.16 L194.55,669.18 L195.07,669.20 L195.58,669.22 L196.10,669.24 L196.62,669.27 L197.14,669.29 L197.65,669.31 L198.17,669.33 L198.69,669.35 L199.21,669.37 L199.29,669.37 M207.45,669.65 L207.96,669.66 L208.48,669.68 L209.00,669.69 L209.52,669.70 L210.03,669.72 L210.55,669.73 L211.07,669.74 L211.59,669.76 L212.10,669.77 L212.62,669.78 L213.14,669.79 L213.66,669.80 L213.70,669.80 M221.86,669.95 L222.37,669.96 L222.89,669.97 L223.41,669.98 L223.93,669.99 L224.44,670.00 L224.96,670.00 L225.48,670.01 L226.00,670.02 L226.51,670.02 L227.03,670.03 L227.55,670.04 L228.07,670.05 L228.15,670.05 M236.31,670.15 L236.82,670.15 L237.34,670.16 L237.86,670.17 L238.38,670.17 L238.89,670.18 L239.41,670.18 L239.93,670.19 L240.45,670.19 L240.96,670.20 L241.48,670.20 L242.00,670.21 L242.52,670.22 L242.56,670.22 M250.72,670.29 L251.23,670.30 L251.75,670.30 L252.27,670.31 L252.79,670.31 L253.30,670.32 L253.82,670.32 L254.34,670.33 L254.86,670.33 L255.37,670.33 L255.89,670.34 L256.41,670.34 L256.93,670.35 L257.01,670.35 M265.17,670.41 L265.68,670.42 L266.20,670.42 L266.72,670.42 L267.24,670.43 L267.75,670.43 L268.27,670.44 L268.79,670.44 L269.31,670.44 L269.82,670.45 L270.34,670.45 L270.86,670.46 L271.38,670.46 L271.46,670.46 M279.62,670.52 L280.13,670.53 L280.65,670.53 L281.17,670.53 L281.69,670.54 L282.20,670.54 L282.72,670.54 L283.24,670.55 L283.76,670.55 L284.27,670.55 L284.79,670.56 L285.31,670.56 L285.83,670.57 L285.91,670.57 M294.46,670.62 L294.98,670.63 L295.50,670.63 L296.02,670.63 L296.53,670.64 L297.05,670.64 L297.57,670.64 L298.09,670.65 L298.60,670.65 L299.12,670.65 L299.64,670.66 L300.16,670.66 L300.67,670.66 L301.03,670.67 M309.55,670.72 L310.07,670.72 L310.59,670.72 L311.10,670.72 L311.62,670.73 L312.14,670.73 L312.66,670.73 L313.17,670.74 L313.69,670.74 L314.21,670.74 L314.73,670.74 L315.24,670.75 L315.76,670.75 L316.00,670.75" stroke-width="1.9" stroke-linecap="round"/>
<path d="M77.20,568.30 L77.75,568.60 L78.30,568.92 L78.85,569.26 L79.40,569.63 L79.96,570.02 L80.51,570.42 L81.06,570.84 L81.61,571.29 L82.16,571.75 L82.71,572.25 L83.26,572.77 L83.81,573.32 L84.36,573.91 L84.91,574.53 L85.47,575.23 L86.02,575.99 L86.57,576.81 L87.12,577.65 L87.67,578.50 L88.22,579.33 L88.77,580.16 L89.32,581.00 L89.87,581.88 L90.43,582.80 L90.98,583.78 L91.53,584.81 L92.08,585.89 L92.63,587.01 L93.18,588.16 L93.73,589.34 L94.28,590.53 L94.83,591.74 L95.39,593.03 L95.94,594.36 L96.49,595.67 L97.04,596.93 L97.59,598.10 L98.14,599.21 L98.69,600.28 L99.24,601.32 L99.79,602.35 L100.34,603.37 L100.90,604.37 L101.45,605.34 L102.00,606.31 L102.55,607.26 L103.10,608.22 L103.65,609.20 L104.20,610.19 L104.75,611.20 L105.30,612.23 L105.86,613.24 L106.41,614.22 L106.96,615.19 L107.51,616.15 L108.06,617.10 L108.61,618.04 L109.16,618.97 L109.71,619.90 L110.26,620.81 L110.81,621.71 L111.37,622.60 L111.92,623.49 L112.47,624.37 L113.02,625.25 L113.57,626.12 L114.12,626.99 L114.67,627.85 L115.22,628.68 L115.77,629.50 L116.33,630.30 L116.88,631.07 L117.43,631.81 L117.98,632.51 L118.53,633.20 L119.08,633.86 L119.63,634.50 L120.18,635.13 L120.73,635.75 L121.29,636.35 L121.84,636.95 L122.39,637.54 L122.94,638.12 L123.49,638.70 L124.04,639.28 L124.59,639.85 L125.14,640.41 L125.69,640.97 L126.24,641.53 L126.80,642.07 L127.35,642.62 L127.90,643.15 L128.45,643.67 L129.00,644.19 L129.55,644.70 L130.10,645.20 L130.65,645.70 L131.20,646.18 L131.76,646.66 L132.31,647.14 L132.86,647.62 L133.41,648.09 L133.96,648.55 L134.51,649.01 L135.06,649.46 L135.61,649.90 L136.16,650.33 L136.71,650.74 L137.27,651.14 L137.82,651.52 L138.37,651.89 L138.92,652.24 L139.47,652.57 L140.02,652.90 L140.57,653.22 L141.12,653.53 L141.67,653.83 L142.23,654.12 L142.78,654.41 L143.33,654.69 L143.88,654.96 L144.43,655.23 L144.98,655.49 L145.53,655.75 L146.08,656.01 L146.63,656.26 L147.19,656.51 L147.74,656.75 L148.29,656.99 L148.84,657.23 L149.39,657.47 L149.94,657.70 L150.49,657.92 L151.04,658.14 L151.59,658.36 L152.14,658.57 L152.70,658.79 L153.25,658.99 L153.80,659.20 L154.35,659.40 L154.90,659.60 L155.45,659.80 L156.00,660.00 L156.55,660.20 L157.10,660.40 L157.66,660.60 L158.21,660.80 L158.76,660.99 L159.31,661.19 L159.86,661.38 L160.41,661.57 L160.96,661.76 L161.51,661.95 L162.06,662.13 L162.61,662.30 L163.17,662.47 L163.72,662.64 L164.27,662.80 L164.82,662.95 L165.37,663.10 L165.92,663.24 L166.47,663.38 L167.02,663.52 L167.57,663.66 L168.13,663.79 L168.68,663.93 L169.23,664.05 L169.78,664.18 L170.33,664.31 L170.88,664.43 L171.43,664.55 L171.98,664.67 L172.53,664.79 L173.09,664.90 L173.64,665.02 L174.19,665.13 L174.74,665.24 L175.29,665.34 L175.84,665.45 L176.39,665.56 L176.94,665.66 L177.49,665.76 L178.04,665.86 L178.60,665.96 L179.15,666.06 L179.70,666.16 L180.25,666.25 L180.80,666.35 L181.35,666.44 L181.90,666.53 L182.45,666.62 L183.00,666.71 L183.56,666.80 L184.11,666.89 L184.66,666.97 L185.21,667.05 L185.76,667.13 L186.31,667.21 L186.86,667.29 L187.41,667.36 L187.96,667.43 L188.51,667.50 L189.07,667.57 L189.62,667.64 L190.17,667.70 L190.72,667.77 L191.27,667.83 L191.82,667.89 L192.37,667.95 L192.92,668.01 L193.47,668.07 L194.03,668.12 L194.58,668.18 L195.13,668.23 L195.68,668.29 L196.23,668.34 L196.78,668.39 L197.33,668.44 L197.88,668.49 L198.43,668.54 L198.99,668.59 L199.54,668.64 L200.09,668.69 L200.64,668.74 L201.19,668.78 L201.74,668.83 L202.29,668.88 L202.84,668.92 L203.39,668.97 L203.94,669.01 L204.50,669.05 L205.05,669.09 L205.60,669.13 L206.15,669.16 L206.70,669.20 L207.25,669.23 L207.80,669.25 L208.35,669.28 L208.90,669.31 L209.46,669.33 L210.01,669.36 L210.56,669.38 L211.11,669.41 L211.66,669.43 L212.21,669.45 L212.76,669.47 L213.31,669.49 L213.86,669.52 L214.41,669.54 L214.97,669.56 L215.52,669.58 L216.07,669.59 L216.62,669.61 L217.17,669.63 L217.72,669.65 L218.27,669.67 L218.82,669.68 L219.37,669.70 L219.93,669.72 L220.48,669.73 L221.03,669.75 L221.58,669.76 L222.13,669.78 L222.68,669.79 L223.23,669.81 L223.78,669.82 L224.33,669.84 L224.89,669.85 L225.44,669.86 L225.99,669.88 L226.54,669.89 L227.09,669.90 L227.64,669.91 L228.19,669.93 L228.74,669.94 L229.29,669.95 L229.84,669.96 L230.40,669.97 L230.95,669.98 L231.50,670.00 L232.05,670.01 L232.60,670.02 L233.15,670.03 L233.70,670.04 L234.25,670.05 L234.80,670.06 L235.36,670.07 L235.91,670.07 L236.46,670.08 L237.01,670.09 L237.56,670.10 L238.11,670.11 L238.66,670.12 L239.21,670.13 L239.76,670.14 L240.31,670.15 L240.87,670.16 L241.42,670.16 L241.97,670.17 L242.52,670.18 L243.07,670.19 L243.62,670.20 L244.17,670.21 L244.72,670.21 L245.27,670.22 L245.83,670.23 L246.38,670.24 L246.93,670.25 L247.48,670.26 L248.03,670.27 L248.58,670.28 L249.13,670.29 L249.68,670.29 L250.23,670.30 L250.79,670.31 L251.34,670.32 L251.89,670.33 L252.44,670.34 L252.99,670.35 L253.54,670.36 L254.09,670.37 L254.64,670.38 L255.19,670.39 L255.74,670.40 L256.30,670.40 L256.85,670.41 L257.40,670.42 L257.95,670.43 L258.50,670.44 L259.05,670.45 L259.60,670.46 L260.15,670.47 L260.70,670.48 L261.26,670.49 L261.81,670.50 L262.36,670.50 L262.91,670.51 L263.46,670.52 L264.01,670.53 L264.56,670.54 L265.11,670.55 L265.66,670.56 L266.21,670.57 L266.77,670.58 L267.32,670.59 L267.87,670.60 L268.42,670.61 L268.97,670.62 L269.52,670.63 L270.07,670.64 L270.62,670.65 L271.17,670.66 L271.73,670.67 L272.28,670.69 L272.83,670.70 L273.38,670.71 L273.93,670.72 L274.48,670.73 L275.03,670.74 L275.58,670.75 L276.13,670.76 L276.69,670.77 L277.24,670.78 L277.79,670.79 L278.34,670.81 L278.89,670.82 L279.44,670.83 L279.99,670.84 L280.54,670.85 L281.09,670.86 L281.64,670.87 L282.20,670.88 L282.75,670.89 L283.30,670.90 L283.85,670.92 L284.40,670.93 L284.95,670.94 L285.50,670.95 L286.05,670.96 L286.60,670.97 L287.16,670.98 L287.71,670.99 L288.26,671.00 L288.81,671.01 L289.36,671.02 L289.91,671.03 L290.46,671.04 L291.01,671.05 L291.56,671.06 L292.11,671.07 L292.67,671.08 L293.22,671.09 L293.77,671.10 L294.32,671.11 L294.87,671.12 L295.42,671.13 L295.97,671.14 L296.52,671.15 L297.07,671.16 L297.63,671.16 L298.18,671.17 L298.73,671.18 L299.28,671.19 L299.83,671.20 L300.38,671.21 L300.93,671.21 L301.48,671.22 L302.03,671.23 L302.59,671.24 L303.14,671.24 L303.69,671.25 L304.24,671.26 L304.79,671.27 L305.34,671.28 L305.89,671.28 L306.44,671.29 L306.99,671.30 L307.54,671.31 L308.10,671.31 L308.65,671.32 L309.20,671.33 L309.75,671.34 L310.30,671.34 L310.85,671.35 L311.40,671.36 L311.95,671.36 L312.50,671.37 L313.06,671.38 L313.61,671.39 L314.16,671.39 L314.71,671.40 L315.26,671.41 L315.81,671.41 L316.36,671.42 L316.91,671.43 L317.46,671.43 L318.01,671.44 L318.57,671.45 L319.12,671.45 L319.67,671.46 L320.22,671.46 L320.77,671.47 L321.32,671.48 L321.87,671.48 L322.42,671.49 L322.97,671.49 L323.53,671.50 L324.08,671.50 L324.63,671.51 L325.18,671.51 L325.73,671.52 L326.28,671.52 L326.83,671.53 L327.38,671.53 L327.93,671.54 L328.49,671.54 L329.04,671.54 L329.59,671.55 L330.14,671.55 L330.69,671.55 L331.24,671.56 L331.79,671.56 L332.34,671.57 L332.89,671.57 L333.44,671.57 L334.00,671.58 L334.55,671.58 L335.10,671.58 L335.65,671.59 L336.20,671.59 L336.75,671.59 L337.30,671.60 L337.85,671.60 L338.40,671.60 L338.96,671.61 L339.51,671.61 L340.06,671.61 L340.61,671.62 L341.16,671.62 L341.71,671.62 L342.26,671.63 L342.81,671.63 L343.36,671.63 L343.91,671.64 L344.47,671.64 L345.02,671.64 L345.57,671.65 L346.12,671.65 L346.67,671.65 L347.22,671.66 L347.77,671.66 L348.32,671.66 L348.87,671.67 L349.43,671.67 L349.98,671.67 L350.53,671.67 L351.08,671.68 L351.63,671.68 L352.18,671.68 L352.73,671.69 L353.28,671.69 L353.83,671.69 L354.39,671.69 L354.94,671.70 L355.49,671.70 L356.04,671.70 L356.59,671.71 L357.14,671.71 L357.69,671.71 L358.24,671.71 L358.79,671.72 L359.34,671.72 L359.90,671.72 L360.45,671.72 L361.00,671.73 L361.55,671.73 L362.10,671.73 L362.65,671.73 L363.20,671.74 L363.75,671.74 L364.30,671.74 L364.86,671.74 L365.41,671.75 L365.96,671.75 L366.51,671.75 L367.06,671.75 L367.61,671.76 L368.16,671.76 L368.71,671.76 L369.26,671.76 L369.81,671.77 L370.37,671.77 L370.92,671.77 L371.47,671.77 L372.02,671.77 L372.57,671.78 L373.12,671.78 L373.67,671.78 L374.22,671.78 L374.77,671.78 L375.33,671.79 L375.88,671.79 L376.43,671.79 L376.98,671.79 L377.53,671.79 L378.08,671.80 L378.63,671.80 L379.18,671.80 L379.73,671.80 L380.29,671.80 L380.84,671.81 L381.39,671.81 L381.94,671.81 L382.49,671.81 L383.04,671.81 L383.59,671.81 L384.14,671.82 L384.69,671.82 L385.24,671.82 L385.80,671.82 L386.35,671.82 L386.90,671.82 L387.45,671.82 L388.00,671.83 L388.55,671.83 L389.10,671.83 L389.65,671.83 L390.20,671.83 L390.76,671.83 L391.31,671.83 L391.86,671.83 L392.41,671.84 L392.96,671.84 L393.51,671.84 L394.06,671.84 L394.61,671.84 L395.16,671.84 L395.71,671.84 L396.27,671.84 L396.82,671.84 L397.37,671.85 L397.92,671.85 L398.47,671.85 L399.02,671.85 L399.57,671.85 L400.12,671.85 L400.67,671.85 L401.23,671.85 L401.78,671.85 L402.33,671.85 L402.88,671.85 L403.43,671.86 L403.98,671.86 L404.53,671.86 L405.08,671.86 L405.63,671.86 L406.19,671.86 L406.74,671.86 L407.29,671.86 L407.84,671.86 L408.39,671.86 L408.94,671.86 L409.49,671.86 L410.04,671.86 L410.59,671.87 L411.14,671.87 L411.70,671.87 L412.25,671.87 L412.80,671.87 L413.35,671.87 L413.90,671.87 L414.45,671.87 L415.00,671.87 L415.55,671.87 L416.10,671.87 L416.66,671.87 L417.21,671.87 L417.76,671.88 L418.31,671.88 L418.86,671.88 L419.41,671.88 L419.96,671.88 L420.51,671.88 L421.06,671.88 L421.61,671.88 L422.17,671.88 L422.72,671.88 L423.27,671.88 L423.82,671.88 L424.37,671.88 L424.92,671.88 L425.47,671.89 L426.02,671.89 L426.57,671.89 L427.13,671.89 L427.68,671.89 L428.23,671.89 L428.78,671.89 L429.33,671.89 L429.88,671.89 L430.43,671.89 L430.98,671.89 L431.53,671.89 L432.09,671.89 L432.64,671.89 L433.19,671.90 L433.74,671.90 L434.29,671.90 L434.84,671.90 L435.39,671.90 L435.94,671.90 L436.49,671.90 L437.04,671.90 L437.60,671.90 L438.15,671.90 L438.70,671.90 L439.25,671.90 L439.80,671.90 L440.35,671.90 L440.90,671.90 L441.45,671.90 L442.00,671.91 L442.56,671.91 L443.11,671.91 L443.66,671.91 L444.21,671.91 L444.76,671.91 L445.31,671.91 L445.86,671.91 L446.41,671.91 L446.96,671.91 L447.51,671.91 L448.07,671.91 L448.62,671.91 L449.17,671.91 L449.72,671.91 L450.27,671.91 L450.82,671.91 L451.37,671.92 L451.92,671.92 L452.47,671.92 L453.03,671.92 L453.58,671.92 L454.13,671.92 L454.68,671.92 L455.23,671.92 L455.78,671.92 L456.33,671.92 L456.88,671.92 L457.43,671.92 L457.99,671.92 L458.54,671.92 L459.09,671.92 L459.64,671.92 L460.19,671.92 L460.74,671.92 L461.29,671.92 L461.84,671.92 L462.39,671.93 L462.94,671.93 L463.50,671.93 L464.05,671.93 L464.60,671.93 L465.15,671.93 L465.70,671.93 L466.25,671.93 L466.80,671.93 L467.35,671.93 L467.90,671.93 L468.46,671.93 L469.01,671.93 L469.56,671.93 L470.11,671.93 L470.66,671.93 L471.21,671.93 L471.76,671.93 L472.31,671.93 L472.86,671.93 L473.41,671.93 L473.97,671.93 L474.52,671.93 L475.07,671.94 L475.62,671.94 L476.17,671.94 L476.72,671.94 L477.27,671.94 L477.82,671.94 L478.37,671.94 L478.93,671.94 L479.48,671.94 L480.03,671.94 L480.58,671.94 L481.13,671.94 L481.68,671.94 L482.23,671.94 L482.78,671.94 L483.33,671.94 L483.89,671.94 L484.44,671.94 L484.99,671.94 L485.54,671.94 L486.09,671.94 L486.64,671.94 L487.19,671.94 L487.74,671.94 L488.29,671.94 L488.84,671.94 L489.40,671.94 L489.95,671.94 L490.50,671.94 L491.05,671.94 L491.60,671.94 L492.15,671.94 L492.70,671.94 L493.25,671.94 L493.80,671.95 L494.36,671.95 L494.91,671.95 L495.46,671.95 L496.01,671.95 L496.56,671.95 L497.11,671.95 L497.66,671.95 L498.21,671.95 L498.76,671.95 L499.31,671.95 L499.87,671.95 L500.42,671.95 L500.97,671.95 L501.52,671.95 L502.07,671.95 L502.62,671.95 L503.17,671.95 L503.72,671.95 L504.27,671.95 L504.83,671.95 L505.38,671.95 L505.93,671.95 L506.48,671.95 L507.03,671.95 L507.58,671.95 L508.13,671.95 L508.68,671.95 L509.23,671.95 L509.79,671.95 L510.34,671.95 L510.89,671.95 L511.44,671.95 L511.99,671.95 L512.54,671.95 L513.09,671.95 L513.64,671.95 L514.19,671.95 L514.74,671.95 L515.30,671.95 L515.85,671.95 L516.40,671.95 L516.95,671.95 L517.50,671.95"/>
</g>
<g fill="none" stroke="#262626" stroke-width="1.25" stroke-linejoin="round">
<rect x="56.45" y="515.00" width="461.45" height="163.50"/>
<path d="M74.00,678.50v8.1M145.19,678.50v8.1M216.38,678.50v8.1M287.57,678.50v8.1M358.76,678.50v8.1M429.95,678.50v8.1M501.14,678.50v8.1M56.45,671.95h-7.4M56.45,621.50h-7.4M56.45,571.05h-7.4M56.45,520.60h-7.4"/>
</g>
<text x="73.70" y="702.90" font-size="13.8" text-anchor="middle" textLength="6.20" lengthAdjust="spacingAndGlyphs">0</text>
<text x="144.89" y="702.90" font-size="13.8" text-anchor="middle" textLength="12.60" lengthAdjust="spacingAndGlyphs">20</text>
<text x="216.08" y="702.90" font-size="13.8" text-anchor="middle" textLength="12.60" lengthAdjust="spacingAndGlyphs">40</text>
<text x="287.27" y="702.90" font-size="13.8" text-anchor="middle" textLength="12.60" lengthAdjust="spacingAndGlyphs">60</text>
<text x="358.46" y="702.90" font-size="13.8" text-anchor="middle" textLength="12.60" lengthAdjust="spacingAndGlyphs">80</text>
<text x="429.65" y="702.90" font-size="13.8" text-anchor="middle" textLength="18.80" lengthAdjust="spacingAndGlyphs">100</text>
<text x="500.84" y="702.90" font-size="13.8" text-anchor="middle" textLength="18.80" lengthAdjust="spacingAndGlyphs">120</text>
<text x="40.60" y="672.45" font-size="13.6" text-anchor="middle" transform="rotate(-90 40.60 672.45)" textLength="37.00" lengthAdjust="spacingAndGlyphs" style="stroke-width:0.5px">0.0000</text>
<text x="40.60" y="622.00" font-size="13.6" text-anchor="middle" transform="rotate(-90 40.60 622.00)" textLength="37.00" lengthAdjust="spacingAndGlyphs" style="stroke-width:0.5px">0.0005</text>
<text x="40.60" y="571.55" font-size="13.6" text-anchor="middle" transform="rotate(-90 40.60 571.55)" textLength="37.00" lengthAdjust="spacingAndGlyphs" style="stroke-width:0.5px">0.0010</text>
<text x="40.60" y="521.10" font-size="13.6" text-anchor="middle" transform="rotate(-90 40.60 521.10)" textLength="37.00" lengthAdjust="spacingAndGlyphs" style="stroke-width:0.5px">0.0015</text>
<text x="287.18" y="723.40" font-size="13.6" text-anchor="middle" textLength="69.30" lengthAdjust="spacingAndGlyphs">Distance (m)</text>
<text x="0" y="0" font-size="13.6" text-anchor="middle" transform="translate(11.20 595.30) rotate(-90) scale(0.86 1)" textLength="173.95" lengthAdjust="spacing" style="stroke-width:0.42px">Dispersal probability per m<tspan font-size="8.8" dy="-4.3">2</tspan></text>
<text x="0.50" y="511.20" font-size="18.8" text-anchor="start" font-weight="bold" style="stroke-width:0.25px">c</text>
<g fill="none" stroke="#111" stroke-width="1.7">
<path d="M451.79999999999995,528.90H474.4"/>
<path d="M451.79999999999995,543.70H474.4" stroke-dasharray="7.7 7.3"/>
<path d="M451.59999999999997,558.80H474.4" stroke-dasharray="2.6 4.9" stroke-width="2.0"/>
</g>
<text x="484.70" y="535.40" font-size="13.5" text-anchor="start" textLength="27.00" lengthAdjust="spacingAndGlyphs">DRM</text>
<text x="484.70" y="550.00" font-size="13.5" text-anchor="start" textLength="18.50" lengthAdjust="spacingAndGlyphs">DM</text>
<text x="484.70" y="564.60" font-size="13.5" text-anchor="start" textLength="18.50" lengthAdjust="spacingAndGlyphs">SM</text>
</g>
</svg></body></html>
